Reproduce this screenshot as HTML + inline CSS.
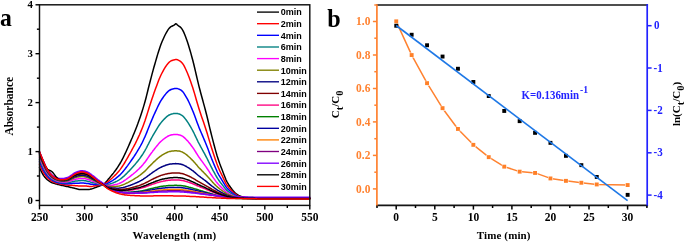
<!DOCTYPE html>
<html><head><meta charset="utf-8"><title>figure</title>
<style>
html,body{margin:0;padding:0;background:#fff;}
body{width:685px;height:243px;overflow:hidden;font-family:"Liberation Sans",sans-serif;}
svg{display:block;will-change:transform;}
</style></head><body>
<svg width="685" height="243" viewBox="0 0 685 243">
<rect width="685" height="243" fill="#fff"/>
<g fill="none" stroke-width="1.5" stroke-linejoin="round" stroke-linecap="round">
<polyline stroke="#000000" points="39.5,167.5 40.4,169.5 41.3,171.4 42.2,173.2 43.1,174.8 44.0,176.1 44.9,177.3 45.8,178.3 46.7,179.2 47.6,180.0 48.5,180.6 49.4,181.2 50.3,181.8 51.2,182.3 52.1,182.7 53.0,183.0 53.9,183.3 54.8,183.6 55.7,183.9 56.6,184.1 57.5,184.4 58.4,184.6 59.3,184.8 60.2,185.0 61.1,185.2 62.0,185.4 62.9,185.6 63.8,185.8 64.7,186.0 65.6,186.2 66.5,186.4 67.4,186.6 68.3,186.8 69.2,187.0 70.1,187.2 71.0,187.4 71.9,187.6 72.8,187.9 73.7,188.1 74.6,188.3 75.5,188.6 76.4,188.8 77.3,189.0 78.2,189.2 79.1,189.4 80.0,189.4 80.9,189.5 81.8,189.5 82.7,189.5 83.6,189.5 84.6,189.5 85.5,189.4 86.4,189.4 87.3,189.4 88.2,189.4 89.1,189.4 90.0,189.3 90.9,189.1 91.8,188.9 92.7,188.6 93.6,188.3 94.5,187.9 95.4,187.5 96.3,187.2 97.2,186.8 98.1,186.5 99.0,186.2 99.9,185.8 100.8,185.5 101.7,185.1 102.6,184.6 103.5,184.1 104.4,183.5 105.3,182.7 106.2,181.7 107.1,180.7 108.0,179.6 108.9,178.6 109.8,177.5 110.7,176.4 111.6,175.3 112.5,174.2 113.4,173.1 114.3,171.9 115.2,170.7 116.1,169.5 117.0,168.2 117.9,166.8 118.8,165.4 119.7,164.0 120.6,162.5 121.5,160.8 122.4,159.1 123.3,157.4 124.2,155.5 125.1,153.6 126.0,151.7 126.9,149.7 127.8,147.7 128.7,145.7 129.6,143.6 130.5,141.6 131.4,139.5 132.3,137.5 133.2,135.3 134.1,133.2 135.0,131.0 135.9,128.7 136.8,126.4 137.7,124.1 138.6,121.6 139.5,119.1 140.4,116.5 141.3,113.8 142.2,111.0 143.1,108.1 144.0,105.1 144.9,102.0 145.8,98.7 146.7,95.1 147.6,91.5 148.5,87.8 149.4,84.2 150.3,80.8 151.2,77.4 152.1,73.9 153.0,70.6 153.9,67.3 154.8,64.2 155.7,61.1 156.6,58.0 157.5,54.9 158.4,52.0 159.3,49.2 160.2,46.5 161.1,44.1 162.0,41.8 162.9,39.7 163.8,37.7 164.7,35.8 165.6,34.0 166.5,32.3 167.4,30.8 168.3,29.4 169.2,28.3 170.1,27.4 171.0,26.7 171.9,26.2 172.8,25.8 173.7,25.4 174.7,24.7 175.6,23.7 176.5,23.9 177.4,25.0 178.3,25.7 179.2,26.3 180.1,26.9 181.0,27.8 181.9,28.9 182.8,30.3 183.7,32.1 184.6,34.2 185.5,36.5 186.4,39.0 187.3,41.5 188.2,44.2 189.1,47.2 190.0,50.2 190.9,53.4 191.8,56.7 192.7,60.0 193.6,63.5 194.5,67.2 195.4,71.1 196.3,75.0 197.2,78.9 198.1,82.7 199.0,86.4 199.9,89.8 200.8,93.2 201.7,96.5 202.6,99.8 203.5,103.1 204.4,106.4 205.3,109.8 206.2,113.2 207.1,116.8 208.0,120.5 208.9,124.3 209.8,128.1 210.7,131.8 211.6,135.4 212.5,138.9 213.4,142.4 214.3,145.8 215.2,149.1 216.1,152.4 217.0,155.5 217.9,158.3 218.8,161.0 219.7,163.6 220.6,166.0 221.5,168.3 222.4,170.6 223.3,173.0 224.2,175.3 225.1,177.6 226.0,179.8 226.9,181.6 227.8,183.2 228.7,184.7 229.6,186.0 230.5,187.3 231.4,188.5 232.3,189.7 233.2,190.8 234.1,191.8 235.0,192.7 235.9,193.5 236.8,194.2 237.7,194.8 238.6,195.4 239.5,195.8 240.4,196.2 241.3,196.6 242.2,196.8 243.1,197.0 244.0,197.2 244.9,197.3 245.8,197.4 246.7,197.5 247.6,197.5 248.5,197.5 249.4,197.6 250.3,197.6 251.2,197.6 252.1,197.6 253.0,197.6 253.9,197.7 254.8,197.7 255.7,197.7 256.6,197.7 257.5,197.7 258.4,197.7 259.3,197.7 260.2,197.8 261.1,197.8 262.0,197.8 262.9,197.8 263.8,197.8 264.8,197.8 265.7,197.8 266.6,197.8 267.5,197.8 268.4,197.9 269.3,197.9 270.2,197.9 271.1,197.9 272.0,197.9 272.9,197.9 273.8,197.9 274.7,198.0 275.6,198.0 276.5,198.0 277.4,198.0 278.3,198.0 279.2,198.0 280.1,198.0 281.0,198.0 281.9,198.0 282.8,198.0 283.7,198.0 284.6,198.0 285.5,198.0 286.4,198.1 287.3,198.1 288.2,198.1 289.1,198.1 290.0,198.1 290.9,198.1 291.8,198.1 292.7,198.1 293.6,198.1 294.5,198.1 295.4,198.1 296.3,198.1 297.2,198.1 298.1,198.1 299.0,198.1 299.9,198.1 300.8,198.1 301.7,198.1 302.6,198.1 303.5,198.1 304.4,198.1 305.3,198.1 306.2,198.1 307.1,198.1 308.0,198.1 308.9,198.1 309.8,198.1"/>
<polyline stroke="#ff0000" points="39.5,164.3 40.4,166.4 41.3,168.3 42.2,170.2 43.1,172.0 44.0,173.4 44.9,174.8 45.8,176.0 46.7,177.1 47.6,178.0 48.5,178.8 49.4,179.5 50.3,180.2 51.2,180.8 52.1,181.3 53.0,181.7 53.9,182.1 54.8,182.5 55.7,182.8 56.6,183.1 57.5,183.3 58.4,183.5 59.3,183.8 60.2,184.0 61.1,184.1 62.0,184.3 62.9,184.4 63.8,184.6 64.7,184.7 65.6,184.9 66.5,185.0 67.4,185.1 68.3,185.2 69.2,185.2 70.1,185.3 71.0,185.3 71.9,185.3 72.8,185.4 73.7,185.5 74.6,185.6 75.5,185.7 76.4,185.7 77.3,185.8 78.2,185.9 79.1,186.0 80.0,186.0 80.9,186.0 81.8,186.0 82.7,186.0 83.6,186.0 84.6,186.0 85.5,186.1 86.4,186.1 87.3,186.2 88.2,186.3 89.1,186.4 90.0,186.4 90.9,186.4 91.8,186.4 92.7,186.3 93.6,186.1 94.5,186.0 95.4,185.8 96.3,185.7 97.2,185.6 98.1,185.5 99.0,185.3 99.9,185.2 100.8,185.0 101.7,184.9 102.6,184.6 103.5,184.4 104.4,184.0 105.3,183.5 106.2,182.9 107.1,182.3 108.0,181.5 108.9,180.8 109.8,180.0 110.7,179.3 111.6,178.5 112.5,177.7 113.4,176.8 114.3,176.0 115.2,175.1 116.1,174.2 117.0,173.2 117.9,172.2 118.8,171.2 119.7,170.1 120.6,168.9 121.5,167.6 122.4,166.3 123.3,164.9 124.2,163.5 125.1,162.0 126.0,160.4 126.9,158.9 127.8,157.3 128.7,155.7 129.6,154.1 130.5,152.5 131.4,150.9 132.3,149.2 133.2,147.5 134.1,145.8 135.0,144.1 135.9,142.3 136.8,140.5 137.7,138.6 138.6,136.6 139.5,134.7 140.4,132.6 141.3,130.4 142.2,128.2 143.1,125.9 144.0,123.5 144.9,121.0 145.8,118.3 146.7,115.5 147.6,112.6 148.5,109.7 149.4,106.8 150.3,104.1 151.2,101.3 152.1,98.6 153.0,95.9 153.9,93.3 154.8,90.8 155.7,88.3 156.6,85.9 157.5,83.4 158.4,81.1 159.3,78.8 160.2,76.7 161.1,74.8 162.0,73.0 162.9,71.3 163.8,69.7 164.7,68.2 165.6,66.7 166.5,65.4 167.4,64.2 168.3,63.1 169.2,62.2 170.1,61.5 171.0,60.9 171.9,60.5 172.8,60.2 173.7,59.9 174.7,59.7 175.6,59.6 176.5,59.6 177.4,59.8 178.3,60.1 179.2,60.6 180.1,61.1 181.0,61.8 181.9,62.7 182.8,63.8 183.7,65.2 184.6,66.9 185.5,68.8 186.4,70.8 187.3,72.8 188.2,75.0 189.1,77.3 190.0,79.8 190.9,82.3 191.8,84.9 192.7,87.6 193.6,90.4 194.5,93.4 195.4,96.5 196.3,99.7 197.2,102.8 198.1,105.8 199.0,108.7 199.9,111.5 200.8,114.2 201.7,116.9 202.6,119.5 203.5,122.1 204.4,124.8 205.3,127.5 206.2,130.3 207.1,133.1 208.0,136.1 208.9,139.1 209.8,142.1 210.7,145.1 211.6,148.0 212.5,150.8 213.4,153.6 214.3,156.3 215.2,159.0 216.1,161.6 217.0,164.1 217.9,166.4 218.8,168.5 219.7,170.6 220.6,172.5 221.5,174.4 222.4,176.2 223.3,178.1 224.2,180.0 225.1,181.8 226.0,183.6 226.9,185.0 227.8,186.3 228.7,187.5 229.6,188.6 230.5,189.6 231.4,190.5 232.3,191.5 233.2,192.4 234.1,193.2 235.0,193.9 235.9,194.5 236.8,195.1 237.7,195.6 238.6,196.0 239.5,196.4 240.4,196.7 241.3,197.0 242.2,197.2 243.1,197.4 244.0,197.5 244.9,197.6 245.8,197.7 246.7,197.7 247.6,197.8 248.5,197.8 249.4,197.8 250.3,197.9 251.2,197.9 252.1,197.9 253.0,197.9 253.9,197.9 254.8,197.9 255.7,198.0 256.6,198.0 257.5,198.0 258.4,198.0 259.3,198.0 260.2,198.0 261.1,198.0 262.0,198.0 262.9,198.0 263.8,198.0 264.8,198.1 265.7,198.1 266.6,198.1 267.5,198.1 268.4,198.1 269.3,198.1 270.2,198.1 271.1,198.1 272.0,198.1 272.9,198.1 273.8,198.2 274.7,198.2 275.6,198.2 276.5,198.2 277.4,198.2 278.3,198.2 279.2,198.2 280.1,198.2 281.0,198.2 281.9,198.2 282.8,198.2 283.7,198.2 284.6,198.2 285.5,198.2 286.4,198.2 287.3,198.3 288.2,198.3 289.1,198.3 290.0,198.3 290.9,198.3 291.8,198.3 292.7,198.3 293.6,198.3 294.5,198.3 295.4,198.3 296.3,198.3 297.2,198.3 298.1,198.3 299.0,198.3 299.9,198.3 300.8,198.3 301.7,198.3 302.6,198.3 303.5,198.3 304.4,198.3 305.3,198.3 306.2,198.3 307.1,198.3 308.0,198.3 308.9,198.3 309.8,198.3"/>
<polyline stroke="#0000ff" points="39.5,161.6 40.4,163.7 41.3,165.8 42.2,167.7 43.1,169.6 44.0,171.2 44.9,172.6 45.8,174.0 46.7,175.2 47.6,176.3 48.5,177.2 49.4,178.1 50.3,178.8 51.2,179.5 52.1,180.1 53.0,180.6 53.9,181.1 54.8,181.5 55.7,181.8 56.6,182.2 57.5,182.4 58.4,182.7 59.3,182.9 60.2,183.1 61.1,183.2 62.0,183.4 62.9,183.5 63.8,183.6 64.7,183.7 65.6,183.7 66.5,183.8 67.4,183.8 68.3,183.8 69.2,183.7 70.1,183.6 71.0,183.5 71.9,183.4 72.8,183.3 73.7,183.3 74.6,183.2 75.5,183.2 76.4,183.2 77.3,183.2 78.2,183.2 79.1,183.2 80.0,183.1 80.9,183.1 81.8,183.1 82.7,183.1 83.6,183.1 84.6,183.2 85.5,183.3 86.4,183.4 87.3,183.5 88.2,183.6 89.1,183.8 90.0,184.0 90.9,184.2 91.8,184.3 92.7,184.3 93.6,184.4 94.5,184.4 95.4,184.4 96.3,184.5 97.2,184.5 98.1,184.6 99.0,184.6 99.9,184.7 100.8,184.7 101.7,184.7 102.6,184.6 103.5,184.6 104.4,184.4 105.3,184.2 106.2,183.9 107.1,183.6 108.0,183.1 108.9,182.6 109.8,182.1 110.7,181.6 111.6,181.1 112.5,180.6 113.4,180.0 114.3,179.4 115.2,178.8 116.1,178.1 117.0,177.4 117.9,176.7 118.8,175.9 119.7,175.1 120.6,174.2 121.5,173.3 122.4,172.3 123.3,171.2 124.2,170.1 125.1,169.0 126.0,167.8 126.9,166.6 127.8,165.4 128.7,164.1 129.6,162.9 130.5,161.6 131.4,160.3 132.3,159.0 133.2,157.7 134.1,156.4 135.0,155.0 135.9,153.6 136.8,152.2 137.7,150.7 138.6,149.2 139.5,147.6 140.4,146.0 141.3,144.3 142.2,142.6 143.1,140.7 144.0,138.8 144.9,136.9 145.8,134.8 146.7,132.6 147.6,130.3 148.5,128.0 149.4,125.7 150.3,123.5 151.2,121.4 152.1,119.2 153.0,117.1 153.9,115.0 154.8,113.1 155.7,111.1 156.6,109.2 157.5,107.3 158.4,105.4 159.3,103.6 160.2,101.9 161.1,100.4 162.0,99.0 162.9,97.7 163.8,96.4 164.7,95.2 165.6,94.1 166.5,93.0 167.4,92.1 168.3,91.2 169.2,90.5 170.1,90.0 171.0,89.5 171.9,89.2 172.8,88.9 173.7,88.7 174.7,88.5 175.6,88.4 176.5,88.5 177.4,88.6 178.3,88.9 179.2,89.2 180.1,89.6 181.0,90.2 181.9,90.9 182.8,91.8 183.7,92.9 184.6,94.3 185.5,95.8 186.4,97.3 187.3,98.9 188.2,100.7 189.1,102.5 190.0,104.5 190.9,106.5 191.8,108.6 192.7,110.7 193.6,112.9 194.5,115.3 195.4,117.7 196.3,120.2 197.2,122.7 198.1,125.1 199.0,127.4 199.9,129.6 200.8,131.7 201.7,133.8 202.6,135.9 203.5,138.0 204.4,140.1 205.3,142.3 206.2,144.5 207.1,146.8 208.0,149.1 208.9,151.5 209.8,153.9 210.7,156.2 211.6,158.6 212.5,160.8 213.4,163.0 214.3,165.1 215.2,167.2 216.1,169.3 217.0,171.3 217.9,173.1 218.8,174.8 219.7,176.4 220.6,177.9 221.5,179.4 222.4,180.9 223.3,182.4 224.2,183.9 225.1,185.4 226.0,186.7 226.9,187.9 227.8,188.9 228.7,189.8 229.6,190.7 230.5,191.5 231.4,192.3 232.3,193.0 233.2,193.7 234.1,194.3 235.0,194.9 235.9,195.4 236.8,195.9 237.7,196.3 238.6,196.6 239.5,196.9 240.4,197.2 241.3,197.4 242.2,197.6 243.1,197.7 244.0,197.8 244.9,197.9 245.8,197.9 246.7,198.0 247.6,198.0 248.5,198.0 249.4,198.1 250.3,198.1 251.2,198.1 252.1,198.1 253.0,198.1 253.9,198.1 254.8,198.2 255.7,198.2 256.6,198.2 257.5,198.2 258.4,198.2 259.3,198.2 260.2,198.2 261.1,198.2 262.0,198.2 262.9,198.2 263.8,198.3 264.8,198.3 265.7,198.3 266.6,198.3 267.5,198.3 268.4,198.3 269.3,198.3 270.2,198.3 271.1,198.3 272.0,198.3 272.9,198.3 273.8,198.3 274.7,198.4 275.6,198.4 276.5,198.4 277.4,198.4 278.3,198.4 279.2,198.4 280.1,198.4 281.0,198.4 281.9,198.4 282.8,198.4 283.7,198.4 284.6,198.4 285.5,198.4 286.4,198.4 287.3,198.4 288.2,198.4 289.1,198.4 290.0,198.4 290.9,198.4 291.8,198.4 292.7,198.4 293.6,198.4 294.5,198.4 295.4,198.4 296.3,198.4 297.2,198.4 298.1,198.4 299.0,198.4 299.9,198.4 300.8,198.4 301.7,198.4 302.6,198.4 303.5,198.4 304.4,198.4 305.3,198.4 306.2,198.4 307.1,198.4 308.0,198.4 308.9,198.4 309.8,198.4"/>
<polyline stroke="#008080" points="39.5,159.2 40.4,161.5 41.3,163.6 42.2,165.6 43.1,167.5 44.0,169.2 44.9,170.8 45.8,172.3 46.7,173.6 47.6,174.8 48.5,175.9 49.4,176.8 50.3,177.7 51.2,178.4 52.1,179.1 53.0,179.7 53.9,180.2 54.8,180.6 55.7,181.0 56.6,181.4 57.5,181.7 58.4,181.9 59.3,182.1 60.2,182.3 61.1,182.5 62.0,182.6 62.9,182.7 63.8,182.7 64.7,182.8 65.6,182.8 66.5,182.8 67.4,182.8 68.3,182.6 69.2,182.4 70.1,182.2 71.0,182.0 71.9,181.8 72.8,181.5 73.7,181.4 74.6,181.2 75.5,181.1 76.4,181.0 77.3,180.9 78.2,180.8 79.1,180.7 80.0,180.7 80.9,180.6 81.8,180.5 82.7,180.5 83.6,180.6 84.6,180.7 85.5,180.8 86.4,181.0 87.3,181.2 88.2,181.4 89.1,181.6 90.0,181.9 90.9,182.2 91.8,182.4 92.7,182.7 93.6,182.8 94.5,183.0 95.4,183.2 96.3,183.4 97.2,183.7 98.1,183.9 99.0,184.1 99.9,184.2 100.8,184.4 101.7,184.5 102.6,184.6 103.5,184.7 104.4,184.8 105.3,184.8 106.2,184.8 107.1,184.7 108.0,184.5 108.9,184.2 109.8,184.0 110.7,183.7 111.6,183.4 112.5,183.1 113.4,182.7 114.3,182.3 115.2,182.0 116.1,181.5 117.0,181.1 117.9,180.6 118.8,180.1 119.7,179.5 120.6,178.9 121.5,178.2 122.4,177.4 123.3,176.7 124.2,175.9 125.1,175.0 126.0,174.1 126.9,173.2 127.8,172.3 128.7,171.4 129.6,170.4 130.5,169.5 131.4,168.5 132.3,167.5 133.2,166.5 134.1,165.5 135.0,164.5 135.9,163.4 136.8,162.3 137.7,161.2 138.6,160.0 139.5,158.9 140.4,157.6 141.3,156.3 142.2,155.0 143.1,153.6 144.0,152.1 144.9,150.6 145.8,149.0 146.7,147.3 147.6,145.5 148.5,143.8 149.4,142.0 150.3,140.4 151.2,138.7 152.1,137.0 153.0,135.4 153.9,133.8 154.8,132.3 155.7,130.8 156.6,129.3 157.5,127.8 158.4,126.4 159.3,125.0 160.2,123.8 161.1,122.6 162.0,121.5 162.9,120.5 163.8,119.5 164.7,118.6 165.6,117.7 166.5,116.9 167.4,116.2 168.3,115.5 169.2,115.0 170.1,114.6 171.0,114.2 171.9,113.9 172.8,113.8 173.7,113.6 174.7,113.5 175.6,113.4 176.5,113.4 177.4,113.5 178.3,113.8 179.2,114.0 180.1,114.3 181.0,114.8 181.9,115.3 182.8,116.0 183.7,116.9 184.6,118.0 185.5,119.1 186.4,120.3 187.3,121.6 188.2,122.9 189.1,124.3 190.0,125.8 190.9,127.4 191.8,129.0 192.7,130.6 193.6,132.3 194.5,134.2 195.4,136.1 196.3,138.0 197.2,139.9 198.1,141.8 199.0,143.5 199.9,145.2 200.8,146.9 201.7,148.5 202.6,150.2 203.5,151.8 204.4,153.4 205.3,155.1 206.2,156.8 207.1,158.5 208.0,160.3 208.9,162.2 209.8,164.0 210.7,165.9 211.6,167.6 212.5,169.4 213.4,171.1 214.3,172.7 215.2,174.4 216.1,176.0 217.0,177.5 217.9,178.9 218.8,180.2 219.7,181.5 220.6,182.7 221.5,183.8 222.4,185.0 223.3,186.1 224.2,187.3 225.1,188.4 226.0,189.4 226.9,190.4 227.8,191.2 228.7,191.9 229.6,192.5 230.5,193.1 231.4,193.7 232.3,194.3 233.2,194.8 234.1,195.3 235.0,195.8 235.9,196.2 236.8,196.5 237.7,196.8 238.6,197.1 239.5,197.3 240.4,197.5 241.3,197.7 242.2,197.8 243.1,197.9 244.0,198.0 244.9,198.1 245.8,198.1 246.7,198.2 247.6,198.2 248.5,198.2 249.4,198.2 250.3,198.3 251.2,198.3 252.1,198.3 253.0,198.3 253.9,198.3 254.8,198.3 255.7,198.4 256.6,198.4 257.5,198.4 258.4,198.4 259.3,198.4 260.2,198.4 261.1,198.4 262.0,198.4 262.9,198.4 263.8,198.4 264.8,198.4 265.7,198.4 266.6,198.5 267.5,198.5 268.4,198.5 269.3,198.5 270.2,198.5 271.1,198.5 272.0,198.5 272.9,198.5 273.8,198.5 274.7,198.5 275.6,198.5 276.5,198.5 277.4,198.5 278.3,198.5 279.2,198.5 280.1,198.5 281.0,198.5 281.9,198.5 282.8,198.6 283.7,198.6 284.6,198.6 285.5,198.6 286.4,198.6 287.3,198.6 288.2,198.6 289.1,198.6 290.0,198.6 290.9,198.6 291.8,198.6 292.7,198.6 293.6,198.6 294.5,198.6 295.4,198.6 296.3,198.6 297.2,198.6 298.1,198.6 299.0,198.6 299.9,198.6 300.8,198.6 301.7,198.6 302.6,198.6 303.5,198.6 304.4,198.6 305.3,198.6 306.2,198.6 307.1,198.6 308.0,198.6 308.9,198.6 309.8,198.6"/>
<polyline stroke="#ff00ff" points="39.5,157.3 40.4,159.5 41.3,161.7 42.2,163.8 43.1,165.7 44.0,167.5 44.9,169.3 45.8,170.9 46.7,172.3 47.6,173.6 48.5,174.7 49.4,175.8 50.3,176.7 51.2,177.5 52.1,178.3 53.0,178.9 53.9,179.4 54.8,179.9 55.7,180.3 56.6,180.7 57.5,181.0 58.4,181.2 59.3,181.5 60.2,181.7 61.1,181.8 62.0,181.9 62.9,182.0 63.8,182.0 64.7,182.0 65.6,182.0 66.5,181.9 67.4,181.8 68.3,181.6 69.2,181.3 70.1,181.0 71.0,180.7 71.9,180.4 72.8,180.0 73.7,179.7 74.6,179.5 75.5,179.3 76.4,179.1 77.3,178.9 78.2,178.8 79.1,178.7 80.0,178.6 80.9,178.5 81.8,178.4 82.7,178.4 83.6,178.5 84.6,178.6 85.5,178.8 86.4,179.0 87.3,179.2 88.2,179.5 89.1,179.8 90.0,180.2 90.9,180.6 91.8,180.9 92.7,181.2 93.6,181.5 94.5,181.9 95.4,182.2 96.3,182.6 97.2,182.9 98.1,183.2 99.0,183.5 99.9,183.8 100.8,184.1 101.7,184.4 102.6,184.6 103.5,184.9 104.4,185.1 105.3,185.4 106.2,185.5 107.1,185.6 108.0,185.6 108.9,185.6 109.8,185.5 110.7,185.4 111.6,185.3 112.5,185.2 113.4,185.0 114.3,184.8 115.2,184.6 116.1,184.4 117.0,184.2 117.9,183.9 118.8,183.6 119.7,183.2 120.6,182.8 121.5,182.3 122.4,181.8 123.3,181.3 124.2,180.7 125.1,180.1 126.0,179.5 126.9,178.8 127.8,178.2 128.7,177.5 129.6,176.8 130.5,176.1 131.4,175.4 132.3,174.7 133.2,174.0 134.1,173.2 135.0,172.5 135.9,171.7 136.8,170.9 137.7,170.0 138.6,169.2 139.5,168.3 140.4,167.4 141.3,166.4 142.2,165.4 143.1,164.4 144.0,163.3 144.9,162.2 145.8,161.0 146.7,159.7 147.6,158.4 148.5,157.1 149.4,155.8 150.3,154.5 151.2,153.3 152.1,152.1 153.0,150.8 153.9,149.7 154.8,148.5 155.7,147.4 156.6,146.3 157.5,145.2 158.4,144.1 159.3,143.1 160.2,142.1 161.1,141.3 162.0,140.5 162.9,139.7 163.8,139.0 164.7,138.3 165.6,137.7 166.5,137.1 167.4,136.5 168.3,136.0 169.2,135.6 170.1,135.3 171.0,135.0 171.9,134.8 172.8,134.7 173.7,134.6 174.7,134.5 175.6,134.4 176.5,134.4 177.4,134.5 178.3,134.7 179.2,134.9 180.1,135.1 181.0,135.5 181.9,135.9 182.8,136.4 183.7,137.1 184.6,137.9 185.5,138.8 186.4,139.7 187.3,140.6 188.2,141.6 189.1,142.7 190.0,143.8 190.9,145.0 191.8,146.2 192.7,147.4 193.6,148.7 194.5,150.1 195.4,151.5 196.3,153.0 197.2,154.4 198.1,155.8 199.0,157.2 199.9,158.4 200.8,159.7 201.7,160.9 202.6,162.1 203.5,163.4 204.4,164.6 205.3,165.9 206.2,167.1 207.1,168.5 208.0,169.8 208.9,171.2 209.8,172.6 210.7,174.0 211.6,175.3 212.5,176.6 213.4,177.9 214.3,179.1 215.2,180.4 216.1,181.6 217.0,182.7 217.9,183.8 218.8,184.8 219.7,185.7 220.6,186.6 221.5,187.5 222.4,188.4 223.3,189.2 224.2,190.1 225.1,191.0 226.0,191.8 226.9,192.4 227.8,193.0 228.7,193.6 229.6,194.1 230.5,194.5 231.4,195.0 232.3,195.4 233.2,195.8 234.1,196.2 235.0,196.5 235.9,196.8 236.8,197.1 237.7,197.3 238.6,197.5 239.5,197.7 240.4,197.9 241.3,198.0 242.2,198.1 243.1,198.2 244.0,198.2 244.9,198.3 245.8,198.3 246.7,198.4 247.6,198.4 248.5,198.4 249.4,198.4 250.3,198.4 251.2,198.4 252.1,198.5 253.0,198.5 253.9,198.5 254.8,198.5 255.7,198.5 256.6,198.5 257.5,198.5 258.4,198.5 259.3,198.6 260.2,198.6 261.1,198.6 262.0,198.6 262.9,198.6 263.8,198.6 264.8,198.6 265.7,198.6 266.6,198.6 267.5,198.6 268.4,198.6 269.3,198.6 270.2,198.6 271.1,198.6 272.0,198.6 272.9,198.6 273.8,198.6 274.7,198.6 275.6,198.6 276.5,198.7 277.4,198.7 278.3,198.7 279.2,198.7 280.1,198.7 281.0,198.7 281.9,198.7 282.8,198.7 283.7,198.7 284.6,198.7 285.5,198.7 286.4,198.7 287.3,198.7 288.2,198.7 289.1,198.7 290.0,198.7 290.9,198.7 291.8,198.7 292.7,198.7 293.6,198.7 294.5,198.7 295.4,198.7 296.3,198.7 297.2,198.7 298.1,198.7 299.0,198.7 299.9,198.7 300.8,198.7 301.7,198.7 302.6,198.7 303.5,198.7 304.4,198.7 305.3,198.7 306.2,198.7 307.1,198.7 308.0,198.7 308.9,198.7 309.8,198.7"/>
<polyline stroke="#808000" points="39.5,155.7 40.4,158.0 41.3,160.2 42.2,162.3 43.1,164.3 44.0,166.2 44.9,168.0 45.8,169.7 46.7,171.2 47.6,172.5 48.5,173.7 49.4,174.8 50.3,175.8 51.2,176.7 52.1,177.5 53.0,178.1 53.9,178.7 54.8,179.2 55.7,179.7 56.6,180.0 57.5,180.3 58.4,180.6 59.3,180.8 60.2,181.0 61.1,181.1 62.0,181.2 62.9,181.2 63.8,181.2 64.7,181.2 65.6,181.1 66.5,181.0 67.4,180.9 68.3,180.6 69.2,180.2 70.1,179.9 71.0,179.5 71.9,179.1 72.8,178.6 73.7,178.2 74.6,177.9 75.5,177.6 76.4,177.4 77.3,177.1 78.2,177.0 79.1,176.8 80.0,176.7 80.9,176.6 81.8,176.5 82.7,176.5 83.6,176.6 84.6,176.7 85.5,176.9 86.4,177.2 87.3,177.4 88.2,177.7 89.1,178.1 90.0,178.6 90.9,179.0 91.8,179.5 92.7,179.9 93.6,180.3 94.5,180.7 95.4,181.2 96.3,181.6 97.2,182.1 98.1,182.5 99.0,182.9 99.9,183.3 100.8,183.7 101.7,184.0 102.6,184.4 103.5,184.8 104.4,185.1 105.3,185.5 106.2,185.9 107.1,186.1 108.0,186.3 108.9,186.4 109.8,186.5 110.7,186.6 111.6,186.6 112.5,186.6 113.4,186.6 114.3,186.5 115.2,186.5 116.1,186.4 117.0,186.3 117.9,186.2 118.8,186.1 119.7,185.9 120.6,185.6 121.5,185.3 122.4,185.0 123.3,184.6 124.2,184.3 125.1,183.9 126.0,183.4 126.9,183.0 127.8,182.6 128.7,182.1 129.6,181.6 130.5,181.1 131.4,180.6 132.3,180.1 133.2,179.6 134.1,179.0 135.0,178.5 135.9,177.9 136.8,177.4 137.7,176.8 138.6,176.2 139.5,175.5 140.4,174.9 141.3,174.2 142.2,173.4 143.1,172.7 144.0,171.9 144.9,171.1 145.8,170.2 146.7,169.3 147.6,168.3 148.5,167.3 149.4,166.4 150.3,165.5 151.2,164.6 152.1,163.7 153.0,162.8 153.9,161.9 154.8,161.1 155.7,160.2 156.6,159.4 157.5,158.6 158.4,157.8 159.3,157.1 160.2,156.4 161.1,155.8 162.0,155.2 162.9,154.6 163.8,154.1 164.7,153.6 165.6,153.1 166.5,152.7 167.4,152.3 168.3,151.9 169.2,151.6 170.1,151.4 171.0,151.2 171.9,151.1 172.8,151.0 173.7,150.9 174.7,150.8 175.6,150.8 176.5,150.8 177.4,150.9 178.3,151.0 179.2,151.1 180.1,151.3 181.0,151.6 181.9,151.9 182.8,152.3 183.7,152.8 184.6,153.4 185.5,154.0 186.4,154.7 187.3,155.4 188.2,156.2 189.1,157.0 190.0,157.8 190.9,158.7 191.8,159.6 192.7,160.5 193.6,161.4 194.5,162.4 195.4,163.5 196.3,164.6 197.2,165.6 198.1,166.7 199.0,167.7 199.9,168.6 200.8,169.5 201.7,170.4 202.6,171.4 203.5,172.3 204.4,173.2 205.3,174.1 206.2,175.1 207.1,176.0 208.0,177.1 208.9,178.1 209.8,179.1 210.7,180.1 211.6,181.1 212.5,182.1 213.4,183.0 214.3,184.0 215.2,184.9 216.1,185.8 217.0,186.6 217.9,187.4 218.8,188.1 219.7,188.9 220.6,189.5 221.5,190.2 222.4,190.8 223.3,191.5 224.2,192.1 225.1,192.7 226.0,193.3 226.9,193.8 227.8,194.3 228.7,194.7 229.6,195.0 230.5,195.4 231.4,195.7 232.3,196.0 233.2,196.3 234.1,196.6 235.0,196.9 235.9,197.1 236.8,197.3 237.7,197.5 238.6,197.6 239.5,197.7 240.4,197.9 241.3,198.0 242.2,198.0 243.1,198.1 244.0,198.1 244.9,198.2 245.8,198.2 246.7,198.2 247.6,198.3 248.5,198.3 249.4,198.3 250.3,198.3 251.2,198.3 252.1,198.3 253.0,198.4 253.9,198.4 254.8,198.4 255.7,198.4 256.6,198.4 257.5,198.4 258.4,198.4 259.3,198.4 260.2,198.4 261.1,198.4 262.0,198.5 262.9,198.5 263.8,198.5 264.8,198.5 265.7,198.5 266.6,198.5 267.5,198.5 268.4,198.5 269.3,198.5 270.2,198.5 271.1,198.5 272.0,198.5 272.9,198.5 273.8,198.5 274.7,198.5 275.6,198.5 276.5,198.5 277.4,198.5 278.3,198.5 279.2,198.5 280.1,198.5 281.0,198.5 281.9,198.5 282.8,198.5 283.7,198.5 284.6,198.5 285.5,198.5 286.4,198.5 287.3,198.5 288.2,198.5 289.1,198.5 290.0,198.5 290.9,198.5 291.8,198.5 292.7,198.5 293.6,198.5 294.5,198.5 295.4,198.5 296.3,198.5 297.2,198.5 298.1,198.5 299.0,198.5 299.9,198.5 300.8,198.5 301.7,198.5 302.6,198.5 303.5,198.5 304.4,198.5 305.3,198.5 306.2,198.5 307.1,198.5 308.0,198.5 308.9,198.5 309.8,198.5"/>
<polyline stroke="#000080" points="39.5,154.5 40.4,156.8 41.3,159.1 42.2,161.2 43.1,163.2 44.0,165.2 44.9,167.1 45.8,168.8 46.7,170.4 47.6,171.8 48.5,173.0 49.4,174.2 50.3,175.2 51.2,176.1 52.1,176.9 53.0,177.7 53.9,178.3 54.8,178.8 55.7,179.2 56.6,179.6 57.5,179.9 58.4,180.2 59.3,180.4 60.2,180.6 61.1,180.7 62.0,180.8 62.9,180.8 63.8,180.7 64.7,180.7 65.6,180.6 66.5,180.5 67.4,180.3 68.3,180.0 69.2,179.6 70.1,179.1 71.0,178.7 71.9,178.2 72.8,177.7 73.7,177.3 74.6,176.9 75.5,176.5 76.4,176.2 77.3,175.9 78.2,175.7 79.1,175.6 80.0,175.4 80.9,175.3 81.8,175.2 82.7,175.2 83.6,175.3 84.6,175.5 85.5,175.7 86.4,175.9 87.3,176.2 88.2,176.5 89.1,177.0 90.0,177.5 90.9,178.0 91.8,178.5 92.7,179.0 93.6,179.5 94.5,180.0 95.4,180.5 96.3,181.1 97.2,181.6 98.1,182.1 99.0,182.6 99.9,183.1 100.8,183.5 101.7,184.0 102.6,184.4 103.5,184.9 104.4,185.3 105.3,185.8 106.2,186.3 107.1,186.7 108.0,187.0 108.9,187.3 109.8,187.5 110.7,187.6 111.6,187.8 112.5,187.9 113.4,188.0 114.3,188.1 115.2,188.1 116.1,188.2 117.0,188.2 117.9,188.2 118.8,188.2 119.7,188.1 120.6,188.0 121.5,187.8 122.4,187.7 123.3,187.5 124.2,187.2 125.1,187.0 126.0,186.7 126.9,186.4 127.8,186.1 128.7,185.8 129.6,185.5 130.5,185.2 131.4,184.8 132.3,184.5 133.2,184.1 134.1,183.8 135.0,183.4 135.9,183.0 136.8,182.6 137.7,182.2 138.6,181.8 139.5,181.3 140.4,180.8 141.3,180.4 142.2,179.8 143.1,179.3 144.0,178.7 144.9,178.1 145.8,177.5 146.7,176.9 147.6,176.2 148.5,175.5 149.4,174.8 150.3,174.1 151.2,173.5 152.1,172.8 153.0,172.2 153.9,171.6 154.8,171.0 155.7,170.4 156.6,169.8 157.5,169.2 158.4,168.7 159.3,168.1 160.2,167.6 161.1,167.2 162.0,166.8 162.9,166.4 163.8,166.0 164.7,165.7 165.6,165.3 166.5,165.0 167.4,164.7 168.3,164.5 169.2,164.3 170.1,164.1 171.0,164.0 171.9,163.9 172.8,163.8 173.7,163.7 174.7,163.7 175.6,163.6 176.5,163.7 177.4,163.7 178.3,163.8 179.2,163.9 180.1,164.0 181.0,164.2 181.9,164.5 182.8,164.8 183.7,165.1 184.6,165.6 185.5,166.0 186.4,166.5 187.3,167.1 188.2,167.6 189.1,168.2 190.0,168.8 190.9,169.4 191.8,170.1 192.7,170.7 193.6,171.4 194.5,172.2 195.4,172.9 196.3,173.7 197.2,174.5 198.1,175.3 199.0,176.0 199.9,176.7 200.8,177.4 201.7,178.0 202.6,178.7 203.5,179.4 204.4,180.0 205.3,180.7 206.2,181.4 207.1,182.1 208.0,182.9 208.9,183.6 209.8,184.4 210.7,185.1 211.6,185.8 212.5,186.5 213.4,187.2 214.3,187.9 215.2,188.5 216.1,189.2 217.0,189.8 217.9,190.4 218.8,190.9 219.7,191.5 220.6,192.0 221.5,192.4 222.4,192.9 223.3,193.4 224.2,193.8 225.1,194.3 226.0,194.7 226.9,195.1 227.8,195.4 228.7,195.7 229.6,196.0 230.5,196.2 231.4,196.5 232.3,196.7 233.2,196.9 234.1,197.1 235.0,197.3 235.9,197.5 236.8,197.6 237.7,197.8 238.6,197.9 239.5,198.0 240.4,198.0 241.3,198.1 242.2,198.2 243.1,198.2 244.0,198.3 244.9,198.3 245.8,198.3 246.7,198.3 247.6,198.4 248.5,198.4 249.4,198.4 250.3,198.4 251.2,198.4 252.1,198.4 253.0,198.5 253.9,198.5 254.8,198.5 255.7,198.5 256.6,198.5 257.5,198.5 258.4,198.5 259.3,198.5 260.2,198.5 261.1,198.5 262.0,198.5 262.9,198.6 263.8,198.6 264.8,198.6 265.7,198.6 266.6,198.6 267.5,198.6 268.4,198.6 269.3,198.6 270.2,198.6 271.1,198.6 272.0,198.6 272.9,198.6 273.8,198.6 274.7,198.6 275.6,198.6 276.5,198.6 277.4,198.6 278.3,198.6 279.2,198.6 280.1,198.6 281.0,198.6 281.9,198.6 282.8,198.6 283.7,198.6 284.6,198.6 285.5,198.6 286.4,198.6 287.3,198.6 288.2,198.6 289.1,198.6 290.0,198.6 290.9,198.6 291.8,198.6 292.7,198.6 293.6,198.6 294.5,198.6 295.4,198.6 296.3,198.6 297.2,198.6 298.1,198.6 299.0,198.6 299.9,198.6 300.8,198.6 301.7,198.6 302.6,198.6 303.5,198.6 304.4,198.6 305.3,198.6 306.2,198.6 307.1,198.6 308.0,198.6 308.9,198.6 309.8,198.6"/>
<polyline stroke="#800000" points="39.5,153.6 40.4,156.0 41.3,158.2 42.2,160.3 43.1,162.4 44.0,164.4 44.9,166.3 45.8,168.1 46.7,169.7 47.6,171.1 48.5,172.5 49.4,173.6 50.3,174.7 51.2,175.6 52.1,176.4 53.0,177.2 53.9,177.8 54.8,178.3 55.7,178.8 56.6,179.2 57.5,179.5 58.4,179.7 59.3,179.9 60.2,180.1 61.1,180.2 62.0,180.2 62.9,180.2 63.8,180.2 64.7,180.1 65.6,180.0 66.5,179.9 67.4,179.7 68.3,179.3 69.2,178.8 70.1,178.4 71.0,177.9 71.9,177.3 72.8,176.8 73.7,176.3 74.6,175.9 75.5,175.5 76.4,175.1 77.3,174.8 78.2,174.6 79.1,174.4 80.0,174.2 80.9,174.1 81.8,174.0 82.7,174.0 83.6,174.1 84.6,174.3 85.5,174.5 86.4,174.8 87.3,175.1 88.2,175.4 89.1,175.9 90.0,176.4 90.9,177.0 91.8,177.6 92.7,178.1 93.6,178.7 94.5,179.2 95.4,179.8 96.3,180.4 97.2,181.0 98.1,181.6 99.0,182.1 99.9,182.6 100.8,183.2 101.7,183.7 102.6,184.2 103.5,184.7 104.4,185.2 105.3,185.8 106.2,186.4 107.1,186.9 108.0,187.3 108.9,187.6 109.8,187.9 110.7,188.2 111.6,188.4 112.5,188.6 113.4,188.8 114.3,189.0 115.2,189.1 116.1,189.3 117.0,189.4 117.9,189.5 118.8,189.5 119.7,189.6 120.6,189.5 121.5,189.5 122.4,189.4 123.3,189.3 124.2,189.2 125.1,189.0 126.0,188.9 126.9,188.7 127.8,188.6 128.7,188.4 129.6,188.2 130.5,187.9 131.4,187.7 132.3,187.5 133.2,187.2 134.1,187.0 135.0,186.8 135.9,186.5 136.8,186.2 137.7,185.9 138.6,185.7 139.5,185.4 140.4,185.0 141.3,184.7 142.2,184.3 143.1,184.0 144.0,183.6 144.9,183.2 145.8,182.7 146.7,182.3 147.6,181.8 148.5,181.3 149.4,180.8 150.3,180.3 151.2,179.9 152.1,179.4 153.0,179.0 153.9,178.5 154.8,178.1 155.7,177.7 156.6,177.3 157.5,176.9 158.4,176.5 159.3,176.1 160.2,175.7 161.1,175.4 162.0,175.1 162.9,174.9 163.8,174.6 164.7,174.4 165.6,174.1 166.5,173.9 167.4,173.7 168.3,173.5 169.2,173.4 170.1,173.3 171.0,173.2 171.9,173.1 172.8,173.0 173.7,173.0 174.7,173.0 175.6,172.9 176.5,173.0 177.4,173.0 178.3,173.1 179.2,173.1 180.1,173.2 181.0,173.4 181.9,173.6 182.8,173.8 183.7,174.0 184.6,174.4 185.5,174.7 186.4,175.1 187.3,175.5 188.2,175.9 189.1,176.3 190.0,176.7 190.9,177.2 191.8,177.7 192.7,178.1 193.6,178.6 194.5,179.2 195.4,179.7 196.3,180.3 197.2,180.8 198.1,181.4 199.0,181.9 199.9,182.4 200.8,182.9 201.7,183.4 202.6,183.9 203.5,184.4 204.4,184.9 205.3,185.4 206.2,185.9 207.1,186.4 208.0,186.9 208.9,187.5 209.8,188.0 210.7,188.5 211.6,189.0 212.5,189.6 213.4,190.0 214.3,190.5 215.2,191.0 216.1,191.5 217.0,191.9 217.9,192.4 218.8,192.8 219.7,193.1 220.6,193.5 221.5,193.9 222.4,194.2 223.3,194.5 224.2,194.9 225.1,195.2 226.0,195.5 226.9,195.8 227.8,196.0 228.7,196.3 229.6,196.4 230.5,196.6 231.4,196.8 232.3,197.0 233.2,197.1 234.1,197.3 235.0,197.4 235.9,197.5 236.8,197.6 237.7,197.7 238.6,197.8 239.5,197.9 240.4,197.9 241.3,198.0 242.2,198.0 243.1,198.1 244.0,198.1 244.9,198.1 245.8,198.2 246.7,198.2 247.6,198.2 248.5,198.2 249.4,198.2 250.3,198.2 251.2,198.3 252.1,198.3 253.0,198.3 253.9,198.3 254.8,198.3 255.7,198.3 256.6,198.3 257.5,198.3 258.4,198.3 259.3,198.4 260.2,198.4 261.1,198.4 262.0,198.4 262.9,198.4 263.8,198.4 264.8,198.4 265.7,198.4 266.6,198.4 267.5,198.4 268.4,198.4 269.3,198.4 270.2,198.4 271.1,198.4 272.0,198.4 272.9,198.4 273.8,198.4 274.7,198.4 275.6,198.4 276.5,198.4 277.4,198.4 278.3,198.4 279.2,198.4 280.1,198.4 281.0,198.4 281.9,198.4 282.8,198.4 283.7,198.4 284.6,198.4 285.5,198.4 286.4,198.4 287.3,198.4 288.2,198.4 289.1,198.4 290.0,198.4 290.9,198.4 291.8,198.4 292.7,198.4 293.6,198.4 294.5,198.4 295.4,198.4 296.3,198.4 297.2,198.4 298.1,198.4 299.0,198.4 299.9,198.4 300.8,198.4 301.7,198.4 302.6,198.4 303.5,198.4 304.4,198.4 305.3,198.4 306.2,198.4 307.1,198.4 308.0,198.4 308.9,198.4 309.8,198.4"/>
<polyline stroke="#ff0080" points="39.5,153.0 40.4,155.3 41.3,157.6 42.2,159.7 43.1,161.8 44.0,163.8 44.9,165.8 45.8,167.6 46.7,169.3 47.6,170.7 48.5,172.1 49.4,173.3 50.3,174.3 51.2,175.3 52.1,176.2 53.0,176.9 53.9,177.5 54.8,178.1 55.7,178.6 56.6,179.0 57.5,179.3 58.4,179.5 59.3,179.7 60.2,179.9 61.1,180.0 62.0,180.0 62.9,180.0 63.8,179.9 64.7,179.8 65.6,179.7 66.5,179.6 67.4,179.3 68.3,178.9 69.2,178.5 70.1,178.0 71.0,177.4 71.9,176.9 72.8,176.3 73.7,175.7 74.6,175.3 75.5,174.9 76.4,174.5 77.3,174.2 78.2,173.9 79.1,173.7 80.0,173.5 80.9,173.4 81.8,173.3 82.7,173.3 83.6,173.4 84.6,173.6 85.5,173.8 86.4,174.1 87.3,174.4 88.2,174.8 89.1,175.3 90.0,175.9 90.9,176.5 91.8,177.1 92.7,177.6 93.6,178.2 94.5,178.8 95.4,179.5 96.3,180.1 97.2,180.8 98.1,181.4 99.0,182.0 99.9,182.5 100.8,183.1 101.7,183.6 102.6,184.2 103.5,184.7 104.4,185.3 105.3,186.0 106.2,186.6 107.1,187.2 108.0,187.7 108.9,188.1 109.8,188.4 110.7,188.8 111.6,189.0 112.5,189.3 113.4,189.5 114.3,189.8 115.2,190.0 116.1,190.2 117.0,190.4 117.9,190.6 118.8,190.7 119.7,190.8 120.6,190.8 121.5,190.8 122.4,190.8 123.3,190.8 124.2,190.8 125.1,190.7 126.0,190.7 126.9,190.6 127.8,190.5 128.7,190.4 129.6,190.3 130.5,190.1 131.4,190.0 132.3,189.9 133.2,189.7 134.1,189.6 135.0,189.4 135.9,189.2 136.8,189.1 137.7,188.9 138.6,188.7 139.5,188.5 140.4,188.3 141.3,188.1 142.2,187.8 143.1,187.6 144.0,187.3 144.9,187.0 145.8,186.7 146.7,186.4 147.6,186.0 148.5,185.7 149.4,185.4 150.3,185.1 151.2,184.7 152.1,184.4 153.0,184.1 153.9,183.8 154.8,183.5 155.7,183.2 156.6,182.9 157.5,182.6 158.4,182.4 159.3,182.1 160.2,181.9 161.1,181.6 162.0,181.4 162.9,181.3 163.8,181.1 164.7,180.9 165.6,180.7 166.5,180.6 167.4,180.5 168.3,180.3 169.2,180.2 170.1,180.2 171.0,180.1 171.9,180.0 172.8,180.0 173.7,180.0 174.7,180.0 175.6,179.9 176.5,179.9 177.4,180.0 178.3,180.0 179.2,180.1 180.1,180.2 181.0,180.3 181.9,180.4 182.8,180.6 183.7,180.8 184.6,181.0 185.5,181.3 186.4,181.5 187.3,181.8 188.2,182.1 189.1,182.4 190.0,182.7 190.9,183.0 191.8,183.4 192.7,183.7 193.6,184.1 194.5,184.5 195.4,184.9 196.3,185.3 197.2,185.7 198.1,186.1 199.0,186.4 199.9,186.8 200.8,187.2 201.7,187.5 202.6,187.9 203.5,188.2 204.4,188.6 205.3,188.9 206.2,189.3 207.1,189.7 208.0,190.1 208.9,190.5 209.8,190.8 210.7,191.2 211.6,191.6 212.5,192.0 213.4,192.3 214.3,192.7 215.2,193.0 216.1,193.4 217.0,193.7 217.9,194.0 218.8,194.3 219.7,194.6 220.6,194.8 221.5,195.1 222.4,195.3 223.3,195.6 224.2,195.8 225.1,196.1 226.0,196.3 226.9,196.5 227.8,196.7 228.7,196.8 229.6,197.0 230.5,197.1 231.4,197.2 232.3,197.3 233.2,197.5 234.1,197.6 235.0,197.7 235.9,197.7 236.8,197.8 237.7,197.9 238.6,197.9 239.5,198.0 240.4,198.0 241.3,198.1 242.2,198.1 243.1,198.2 244.0,198.2 244.9,198.2 245.8,198.2 246.7,198.2 247.6,198.3 248.5,198.3 249.4,198.3 250.3,198.3 251.2,198.3 252.1,198.3 253.0,198.3 253.9,198.4 254.8,198.4 255.7,198.4 256.6,198.4 257.5,198.4 258.4,198.4 259.3,198.4 260.2,198.4 261.1,198.4 262.0,198.4 262.9,198.4 263.8,198.4 264.8,198.4 265.7,198.4 266.6,198.4 267.5,198.4 268.4,198.4 269.3,198.4 270.2,198.4 271.1,198.4 272.0,198.4 272.9,198.4 273.8,198.4 274.7,198.4 275.6,198.4 276.5,198.4 277.4,198.4 278.3,198.5 279.2,198.5 280.1,198.5 281.0,198.5 281.9,198.5 282.8,198.5 283.7,198.5 284.6,198.5 285.5,198.5 286.4,198.5 287.3,198.5 288.2,198.5 289.1,198.5 290.0,198.5 290.9,198.5 291.8,198.5 292.7,198.5 293.6,198.5 294.5,198.5 295.4,198.5 296.3,198.5 297.2,198.5 298.1,198.5 299.0,198.5 299.9,198.5 300.8,198.5 301.7,198.5 302.6,198.5 303.5,198.5 304.4,198.5 305.3,198.5 306.2,198.5 307.1,198.5 308.0,198.5 308.9,198.5 309.8,198.5"/>
<polyline stroke="#008000" points="39.5,152.5 40.4,154.9 41.3,157.2 42.2,159.4 43.1,161.5 44.0,163.5 44.9,165.5 45.8,167.4 46.7,169.1 47.6,170.6 48.5,172.0 49.4,173.2 50.3,174.3 51.2,175.3 52.1,176.2 53.0,177.0 53.9,177.6 54.8,178.2 55.7,178.7 56.6,179.1 57.5,179.4 58.4,179.7 59.3,179.9 60.2,180.1 61.1,180.2 62.0,180.3 62.9,180.3 63.8,180.2 64.7,180.1 65.6,180.0 66.5,179.9 67.4,179.6 68.3,179.2 69.2,178.7 70.1,178.2 71.0,177.6 71.9,177.0 72.8,176.4 73.7,175.9 74.6,175.4 75.5,175.0 76.4,174.5 77.3,174.2 78.2,173.9 79.1,173.7 80.0,173.5 80.9,173.4 81.8,173.3 82.7,173.3 83.6,173.4 84.6,173.6 85.5,173.8 86.4,174.1 87.3,174.4 88.2,174.8 89.1,175.4 90.0,175.9 90.9,176.6 91.8,177.2 92.7,177.8 93.6,178.4 94.5,179.1 95.4,179.7 96.3,180.4 97.2,181.1 98.1,181.7 99.0,182.3 99.9,182.9 100.8,183.5 101.7,184.1 102.6,184.7 103.5,185.3 104.4,185.9 105.3,186.6 106.2,187.3 107.1,187.9 108.0,188.4 108.9,188.9 109.8,189.3 110.7,189.6 111.6,190.0 112.5,190.3 113.4,190.6 114.3,190.8 115.2,191.1 116.1,191.4 117.0,191.6 117.9,191.8 118.8,192.0 119.7,192.1 120.6,192.2 121.5,192.3 122.4,192.3 123.3,192.4 124.2,192.4 125.1,192.4 126.0,192.4 126.9,192.4 127.8,192.4 128.7,192.3 129.6,192.2 130.5,192.2 131.4,192.1 132.3,192.0 133.2,191.9 134.1,191.8 135.0,191.8 135.9,191.7 136.8,191.5 137.7,191.4 138.6,191.3 139.5,191.2 140.4,191.0 141.3,190.9 142.2,190.7 143.1,190.6 144.0,190.4 144.9,190.2 145.8,190.0 146.7,189.8 147.6,189.5 148.5,189.3 149.4,189.1 150.3,188.8 151.2,188.6 152.1,188.4 153.0,188.2 153.9,188.0 154.8,187.8 155.7,187.6 156.6,187.4 157.5,187.2 158.4,187.0 159.3,186.8 160.2,186.6 161.1,186.5 162.0,186.3 162.9,186.2 163.8,186.1 164.7,186.0 165.6,185.9 166.5,185.8 167.4,185.7 168.3,185.6 169.2,185.5 170.1,185.5 171.0,185.4 171.9,185.4 172.8,185.4 173.7,185.4 174.7,185.3 175.6,185.3 176.5,185.3 177.4,185.4 178.3,185.4 179.2,185.4 180.1,185.5 181.0,185.6 181.9,185.7 182.8,185.8 183.7,186.0 184.6,186.1 185.5,186.3 186.4,186.5 187.3,186.7 188.2,186.9 189.1,187.2 190.0,187.4 190.9,187.6 191.8,187.9 192.7,188.1 193.6,188.4 194.5,188.7 195.4,188.9 196.3,189.2 197.2,189.5 198.1,189.8 199.0,190.1 199.9,190.4 200.8,190.6 201.7,190.9 202.6,191.1 203.5,191.4 204.4,191.7 205.3,191.9 206.2,192.2 207.1,192.5 208.0,192.8 208.9,193.0 209.8,193.3 210.7,193.6 211.6,193.9 212.5,194.1 213.4,194.4 214.3,194.7 215.2,194.9 216.1,195.2 217.0,195.4 217.9,195.6 218.8,195.8 219.7,196.0 220.6,196.2 221.5,196.4 222.4,196.6 223.3,196.8 224.2,197.0 225.1,197.2 226.0,197.3 226.9,197.5 227.8,197.6 228.7,197.7 229.6,197.8 230.5,197.9 231.4,198.0 232.3,198.1 233.2,198.2 234.1,198.2 235.0,198.3 235.9,198.4 236.8,198.4 237.7,198.5 238.6,198.5 239.5,198.6 240.4,198.6 241.3,198.6 242.2,198.7 243.1,198.7 244.0,198.7 244.9,198.7 245.8,198.8 246.7,198.8 247.6,198.8 248.5,198.8 249.4,198.8 250.3,198.8 251.2,198.8 252.1,198.9 253.0,198.9 253.9,198.9 254.8,198.9 255.7,198.9 256.6,198.9 257.5,198.9 258.4,198.9 259.3,198.9 260.2,198.9 261.1,198.9 262.0,199.0 262.9,199.0 263.8,199.0 264.8,199.0 265.7,199.0 266.6,199.0 267.5,199.0 268.4,199.0 269.3,199.0 270.2,199.0 271.1,199.0 272.0,199.0 272.9,199.0 273.8,199.0 274.7,199.0 275.6,199.0 276.5,199.0 277.4,199.0 278.3,199.0 279.2,199.0 280.1,199.0 281.0,199.0 281.9,199.0 282.8,199.0 283.7,199.0 284.6,199.0 285.5,199.0 286.4,199.0 287.3,199.0 288.2,199.0 289.1,199.0 290.0,199.0 290.9,199.0 291.8,199.0 292.7,199.0 293.6,199.0 294.5,199.0 295.4,199.0 296.3,199.0 297.2,199.0 298.1,199.0 299.0,199.0 299.9,199.0 300.8,199.0 301.7,199.0 302.6,199.0 303.5,199.0 304.4,199.0 305.3,199.0 306.2,199.0 307.1,199.0 308.0,199.0 308.9,199.0 309.8,199.0"/>
<polyline stroke="#0000a0" points="39.5,152.3 40.4,154.6 41.3,156.9 42.2,159.1 43.1,161.2 44.0,163.2 44.9,165.3 45.8,167.1 46.7,168.8 47.6,170.3 48.5,171.7 49.4,172.9 50.3,174.0 51.2,175.0 52.1,175.9 53.0,176.6 53.9,177.3 54.8,177.8 55.7,178.3 56.6,178.7 57.5,179.0 58.4,179.3 59.3,179.5 60.2,179.6 61.1,179.8 62.0,179.8 62.9,179.8 63.8,179.7 64.7,179.6 65.6,179.4 66.5,179.3 67.4,179.0 68.3,178.6 69.2,178.1 70.1,177.5 71.0,177.0 71.9,176.4 72.8,175.7 73.7,175.2 74.6,174.7 75.5,174.2 76.4,173.8 77.3,173.5 78.2,173.2 79.1,173.0 80.0,172.8 80.9,172.6 81.8,172.5 82.7,172.5 83.6,172.6 84.6,172.8 85.5,173.1 86.4,173.4 87.3,173.7 88.2,174.1 89.1,174.6 90.0,175.2 90.9,175.9 91.8,176.5 92.7,177.1 93.6,177.8 94.5,178.4 95.4,179.1 96.3,179.8 97.2,180.5 98.1,181.2 99.0,181.8 99.9,182.4 100.8,183.0 101.7,183.6 102.6,184.2 103.5,184.8 104.4,185.5 105.3,186.2 106.2,186.9 107.1,187.5 108.0,188.1 108.9,188.6 109.8,189.0 110.7,189.4 111.6,189.7 112.5,190.1 113.4,190.4 114.3,190.7 115.2,191.0 116.1,191.2 117.0,191.5 117.9,191.7 118.8,191.9 119.7,192.1 120.6,192.2 121.5,192.3 122.4,192.4 123.3,192.5 124.2,192.5 125.1,192.6 126.0,192.6 126.9,192.6 127.8,192.6 128.7,192.6 129.6,192.5 130.5,192.5 131.4,192.5 132.3,192.4 133.2,192.4 134.1,192.3 135.0,192.2 135.9,192.2 136.8,192.1 137.7,192.0 138.6,192.0 139.5,191.9 140.4,191.8 141.3,191.7 142.2,191.5 143.1,191.4 144.0,191.3 144.9,191.1 145.8,191.0 146.7,190.8 147.6,190.6 148.5,190.4 149.4,190.3 150.3,190.1 151.2,189.9 152.1,189.8 153.0,189.6 153.9,189.4 154.8,189.3 155.7,189.1 156.6,189.0 157.5,188.8 158.4,188.7 159.3,188.5 160.2,188.4 161.1,188.3 162.0,188.2 162.9,188.1 163.8,188.0 164.7,187.9 165.6,187.8 166.5,187.8 167.4,187.7 168.3,187.6 169.2,187.6 170.1,187.5 171.0,187.5 171.9,187.5 172.8,187.5 173.7,187.5 174.7,187.4 175.6,187.4 176.5,187.4 177.4,187.5 178.3,187.5 179.2,187.5 180.1,187.6 181.0,187.6 181.9,187.7 182.8,187.8 183.7,188.0 184.6,188.1 185.5,188.2 186.4,188.4 187.3,188.6 188.2,188.7 189.1,188.9 190.0,189.1 190.9,189.3 191.8,189.5 192.7,189.7 193.6,189.9 194.5,190.1 195.4,190.4 196.3,190.6 197.2,190.8 198.1,191.1 199.0,191.3 199.9,191.5 200.8,191.7 201.7,191.9 202.6,192.1 203.5,192.3 204.4,192.6 205.3,192.8 206.2,193.0 207.1,193.2 208.0,193.4 208.9,193.7 209.8,193.9 210.7,194.1 211.6,194.3 212.5,194.5 213.4,194.7 214.3,195.0 215.2,195.2 216.1,195.4 217.0,195.6 217.9,195.7 218.8,195.9 219.7,196.1 220.6,196.2 221.5,196.4 222.4,196.5 223.3,196.7 224.2,196.8 225.1,197.0 226.0,197.1 226.9,197.2 227.8,197.3 228.7,197.4 229.6,197.5 230.5,197.6 231.4,197.7 232.3,197.7 233.2,197.8 234.1,197.9 235.0,197.9 235.9,198.0 236.8,198.0 237.7,198.1 238.6,198.1 239.5,198.1 240.4,198.2 241.3,198.2 242.2,198.2 243.1,198.2 244.0,198.2 244.9,198.3 245.8,198.3 246.7,198.3 247.6,198.3 248.5,198.3 249.4,198.3 250.3,198.4 251.2,198.4 252.1,198.4 253.0,198.4 253.9,198.4 254.8,198.4 255.7,198.4 256.6,198.4 257.5,198.4 258.4,198.5 259.3,198.5 260.2,198.5 261.1,198.5 262.0,198.5 262.9,198.5 263.8,198.5 264.8,198.5 265.7,198.5 266.6,198.5 267.5,198.5 268.4,198.5 269.3,198.5 270.2,198.5 271.1,198.5 272.0,198.5 272.9,198.5 273.8,198.5 274.7,198.5 275.6,198.5 276.5,198.5 277.4,198.5 278.3,198.5 279.2,198.5 280.1,198.5 281.0,198.5 281.9,198.5 282.8,198.5 283.7,198.5 284.6,198.5 285.5,198.5 286.4,198.5 287.3,198.5 288.2,198.5 289.1,198.5 290.0,198.5 290.9,198.5 291.8,198.5 292.7,198.5 293.6,198.5 294.5,198.5 295.4,198.5 296.3,198.5 297.2,198.5 298.1,198.5 299.0,198.5 299.9,198.5 300.8,198.5 301.7,198.5 302.6,198.5 303.5,198.5 304.4,198.5 305.3,198.5 306.2,198.5 307.1,198.5 308.0,198.5 308.9,198.5 309.8,198.5"/>
<polyline stroke="#ff8000" points="39.5,152.1 40.4,154.4 41.3,156.7 42.2,158.9 43.1,161.0 44.0,163.0 44.9,165.0 45.8,166.9 46.7,168.6 47.6,170.1 48.5,171.5 49.4,172.7 50.3,173.8 51.2,174.8 52.1,175.6 53.0,176.4 53.9,177.1 54.8,177.6 55.7,178.1 56.6,178.5 57.5,178.8 58.4,179.0 59.3,179.2 60.2,179.4 61.1,179.5 62.0,179.5 62.9,179.5 63.8,179.4 64.7,179.3 65.6,179.1 66.5,178.9 67.4,178.7 68.3,178.2 69.2,177.7 70.1,177.2 71.0,176.6 71.9,176.0 72.8,175.3 73.7,174.8 74.6,174.3 75.5,173.8 76.4,173.4 77.3,173.0 78.2,172.7 79.1,172.5 80.0,172.3 80.9,172.1 81.8,172.0 82.7,172.0 83.6,172.2 84.6,172.4 85.5,172.6 86.4,172.9 87.3,173.2 88.2,173.7 89.1,174.2 90.0,174.8 90.9,175.5 91.8,176.1 92.7,176.7 93.6,177.4 94.5,178.1 95.4,178.8 96.3,179.5 97.2,180.2 98.1,180.8 99.0,181.5 99.9,182.1 100.8,182.7 101.7,183.3 102.6,183.9 103.5,184.6 104.4,185.2 105.3,186.0 106.2,186.7 107.1,187.4 108.0,188.0 108.9,188.5 109.8,188.9 110.7,189.3 111.6,189.7 112.5,190.0 113.4,190.4 114.3,190.7 115.2,191.0 116.1,191.3 117.0,191.6 117.9,191.8 118.8,192.1 119.7,192.3 120.6,192.4 121.5,192.5 122.4,192.6 123.3,192.7 124.2,192.8 125.1,192.9 126.0,192.9 126.9,193.0 127.8,193.0 128.7,193.0 129.6,193.0 130.5,193.0 131.4,193.0 132.3,192.9 133.2,192.9 134.1,192.9 135.0,192.9 135.9,192.8 136.8,192.8 137.7,192.7 138.6,192.7 139.5,192.6 140.4,192.6 141.3,192.5 142.2,192.4 143.1,192.3 144.0,192.2 144.9,192.1 145.8,192.0 146.7,191.9 147.6,191.8 148.5,191.6 149.4,191.5 150.3,191.4 151.2,191.2 152.1,191.1 153.0,191.0 153.9,190.9 154.8,190.8 155.7,190.6 156.6,190.5 157.5,190.4 158.4,190.3 159.3,190.2 160.2,190.1 161.1,190.0 162.0,190.0 162.9,189.9 163.8,189.8 164.7,189.8 165.6,189.7 166.5,189.7 167.4,189.6 168.3,189.6 169.2,189.5 170.1,189.5 171.0,189.5 171.9,189.5 172.8,189.5 173.7,189.5 174.7,189.4 175.6,189.4 176.5,189.4 177.4,189.5 178.3,189.5 179.2,189.5 180.1,189.6 181.0,189.6 181.9,189.7 182.8,189.8 183.7,189.9 184.6,190.0 185.5,190.1 186.4,190.2 187.3,190.4 188.2,190.5 189.1,190.7 190.0,190.8 190.9,191.0 191.8,191.1 192.7,191.3 193.6,191.4 194.5,191.6 195.4,191.8 196.3,192.0 197.2,192.1 198.1,192.3 199.0,192.5 199.9,192.7 200.8,192.8 201.7,193.0 202.6,193.2 203.5,193.3 204.4,193.5 205.3,193.7 206.2,193.9 207.1,194.0 208.0,194.2 208.9,194.4 209.8,194.6 210.7,194.7 211.6,194.9 212.5,195.1 213.4,195.2 214.3,195.4 215.2,195.6 216.1,195.7 217.0,195.9 217.9,196.0 218.8,196.2 219.7,196.3 220.6,196.4 221.5,196.5 222.4,196.7 223.3,196.8 224.2,196.9 225.1,197.0 226.0,197.1 226.9,197.2 227.8,197.3 228.7,197.4 229.6,197.4 230.5,197.5 231.4,197.6 232.3,197.6 233.2,197.7 234.1,197.7 235.0,197.8 235.9,197.8 236.8,197.8 237.7,197.9 238.6,197.9 239.5,197.9 240.4,197.9 241.3,198.0 242.2,198.0 243.1,198.0 244.0,198.0 244.9,198.0 245.8,198.1 246.7,198.1 247.6,198.1 248.5,198.1 249.4,198.1 250.3,198.1 251.2,198.1 252.1,198.2 253.0,198.2 253.9,198.2 254.8,198.2 255.7,198.2 256.6,198.2 257.5,198.2 258.4,198.2 259.3,198.2 260.2,198.2 261.1,198.2 262.0,198.3 262.9,198.3 263.8,198.3 264.8,198.3 265.7,198.3 266.6,198.3 267.5,198.3 268.4,198.3 269.3,198.3 270.2,198.3 271.1,198.3 272.0,198.3 272.9,198.3 273.8,198.3 274.7,198.3 275.6,198.3 276.5,198.3 277.4,198.3 278.3,198.3 279.2,198.3 280.1,198.3 281.0,198.3 281.9,198.3 282.8,198.3 283.7,198.3 284.6,198.3 285.5,198.3 286.4,198.3 287.3,198.3 288.2,198.3 289.1,198.3 290.0,198.3 290.9,198.3 291.8,198.3 292.7,198.3 293.6,198.3 294.5,198.3 295.4,198.3 296.3,198.3 297.2,198.3 298.1,198.3 299.0,198.3 299.9,198.3 300.8,198.3 301.7,198.3 302.6,198.3 303.5,198.3 304.4,198.3 305.3,198.3 306.2,198.3 307.1,198.3 308.0,198.3 308.9,198.3 309.8,198.3"/>
<polyline stroke="#800080" points="39.5,151.9 40.4,154.3 41.3,156.5 42.2,158.7 43.1,160.8 44.0,162.9 44.9,164.9 45.8,166.8 46.7,168.4 47.6,169.9 48.5,171.3 49.4,172.5 50.3,173.6 51.2,174.6 52.1,175.5 53.0,176.2 53.9,176.9 54.8,177.4 55.7,177.9 56.6,178.3 57.5,178.6 58.4,178.8 59.3,179.0 60.2,179.1 61.1,179.2 62.0,179.3 62.9,179.2 63.8,179.1 64.7,179.0 65.6,178.8 66.5,178.6 67.4,178.4 68.3,177.9 69.2,177.4 70.1,176.8 71.0,176.3 71.9,175.6 72.8,175.0 73.7,174.4 74.6,173.9 75.5,173.4 76.4,173.0 77.3,172.6 78.2,172.3 79.1,172.1 80.0,171.9 80.9,171.7 81.8,171.6 82.7,171.7 83.6,171.8 84.6,172.0 85.5,172.2 86.4,172.5 87.3,172.9 88.2,173.3 89.1,173.8 90.0,174.4 90.9,175.1 91.8,175.8 92.7,176.4 93.6,177.0 94.5,177.7 95.4,178.4 96.3,179.2 97.2,179.9 98.1,180.6 99.0,181.2 99.9,181.8 100.8,182.4 101.7,183.1 102.6,183.7 103.5,184.3 104.4,185.0 105.3,185.8 106.2,186.5 107.1,187.2 108.0,187.8 108.9,188.3 109.8,188.8 110.7,189.2 111.6,189.6 112.5,189.9 113.4,190.3 114.3,190.6 115.2,190.9 116.1,191.3 117.0,191.6 117.9,191.8 118.8,192.1 119.7,192.3 120.6,192.4 121.5,192.6 122.4,192.7 123.3,192.8 124.2,192.9 125.1,193.0 126.0,193.1 126.9,193.1 127.8,193.2 128.7,193.2 129.6,193.2 130.5,193.2 131.4,193.2 132.3,193.2 133.2,193.2 134.1,193.2 135.0,193.2 135.9,193.2 136.8,193.2 137.7,193.1 138.6,193.1 139.5,193.1 140.4,193.0 141.3,193.0 142.2,192.9 143.1,192.9 144.0,192.8 144.9,192.7 145.8,192.6 146.7,192.5 147.6,192.4 148.5,192.3 149.4,192.2 150.3,192.1 151.2,192.1 152.1,192.0 153.0,191.9 153.9,191.8 154.8,191.7 155.7,191.6 156.6,191.5 157.5,191.4 158.4,191.3 159.3,191.3 160.2,191.2 161.1,191.2 162.0,191.1 162.9,191.1 163.8,191.0 164.7,191.0 165.6,190.9 166.5,190.9 167.4,190.8 168.3,190.8 169.2,190.8 170.1,190.8 171.0,190.8 171.9,190.7 172.8,190.7 173.7,190.7 174.7,190.7 175.6,190.7 176.5,190.7 177.4,190.7 178.3,190.7 179.2,190.8 180.1,190.8 181.0,190.9 181.9,190.9 182.8,191.0 183.7,191.1 184.6,191.2 185.5,191.3 186.4,191.4 187.3,191.5 188.2,191.6 189.1,191.7 190.0,191.9 190.9,192.0 191.8,192.1 192.7,192.2 193.6,192.4 194.5,192.5 195.4,192.6 196.3,192.8 197.2,192.9 198.1,193.1 199.0,193.2 199.9,193.4 200.8,193.5 201.7,193.7 202.6,193.8 203.5,193.9 204.4,194.1 205.3,194.2 206.2,194.4 207.1,194.5 208.0,194.6 208.9,194.8 209.8,194.9 210.7,195.1 211.6,195.2 212.5,195.3 213.4,195.5 214.3,195.6 215.2,195.8 216.1,195.9 217.0,196.0 217.9,196.1 218.8,196.2 219.7,196.4 220.6,196.5 221.5,196.6 222.4,196.7 223.3,196.8 224.2,196.9 225.1,197.0 226.0,197.0 226.9,197.1 227.8,197.2 228.7,197.2 229.6,197.3 230.5,197.3 231.4,197.4 232.3,197.4 233.2,197.5 234.1,197.5 235.0,197.6 235.9,197.6 236.8,197.6 237.7,197.7 238.6,197.7 239.5,197.7 240.4,197.7 241.3,197.7 242.2,197.8 243.1,197.8 244.0,197.8 244.9,197.8 245.8,197.8 246.7,197.8 247.6,197.9 248.5,197.9 249.4,197.9 250.3,197.9 251.2,197.9 252.1,197.9 253.0,197.9 253.9,197.9 254.8,198.0 255.7,198.0 256.6,198.0 257.5,198.0 258.4,198.0 259.3,198.0 260.2,198.0 261.1,198.0 262.0,198.0 262.9,198.0 263.8,198.0 264.8,198.0 265.7,198.0 266.6,198.0 267.5,198.0 268.4,198.0 269.3,198.0 270.2,198.0 271.1,198.0 272.0,198.0 272.9,198.0 273.8,198.0 274.7,198.0 275.6,198.0 276.5,198.0 277.4,198.0 278.3,198.0 279.2,198.0 280.1,198.0 281.0,198.0 281.9,198.0 282.8,198.0 283.7,198.0 284.6,198.0 285.5,198.0 286.4,198.0 287.3,198.0 288.2,198.0 289.1,198.0 290.0,198.0 290.9,198.0 291.8,198.0 292.7,198.0 293.6,198.0 294.5,198.0 295.4,198.0 296.3,198.0 297.2,198.0 298.1,198.0 299.0,198.0 299.9,198.0 300.8,198.0 301.7,198.0 302.6,198.0 303.5,198.0 304.4,198.0 305.3,198.0 306.2,198.0 307.1,198.0 308.0,198.0 308.9,198.0 309.8,198.0"/>
<polyline stroke="#8000ff" points="39.5,151.8 40.4,154.1 41.3,156.3 42.2,158.5 43.1,160.6 44.0,162.6 44.9,164.6 45.8,166.5 46.7,168.1 47.6,169.6 48.5,171.0 49.4,172.2 50.3,173.2 51.2,174.2 52.1,175.1 53.0,175.8 53.9,176.4 54.8,176.9 55.7,177.4 56.6,177.8 57.5,178.0 58.4,178.2 59.3,178.4 60.2,178.5 61.1,178.6 62.0,178.6 62.9,178.5 63.8,178.4 64.7,178.2 65.6,178.0 66.5,177.8 67.4,177.6 68.3,177.1 69.2,176.6 70.1,176.0 71.0,175.4 71.9,174.8 72.8,174.1 73.7,173.5 74.6,173.0 75.5,172.5 76.4,172.1 77.3,171.7 78.2,171.4 79.1,171.2 80.0,171.0 80.9,170.8 81.8,170.7 82.7,170.7 83.6,170.9 84.6,171.1 85.5,171.3 86.4,171.6 87.3,172.0 88.2,172.4 89.1,172.9 90.0,173.6 90.9,174.2 91.8,174.9 92.7,175.5 93.6,176.2 94.5,176.9 95.4,177.6 96.3,178.4 97.2,179.1 98.1,179.8 99.0,180.4 99.9,181.1 100.8,181.7 101.7,182.3 102.6,182.9 103.5,183.6 104.4,184.3 105.3,185.1 106.2,185.9 107.1,186.6 108.0,187.2 108.9,187.7 109.8,188.2 110.7,188.6 111.6,189.0 112.5,189.4 113.4,189.8 114.3,190.1 115.2,190.4 116.1,190.8 117.0,191.1 117.9,191.4 118.8,191.6 119.7,191.9 120.6,192.0 121.5,192.2 122.4,192.3 123.3,192.5 124.2,192.6 125.1,192.7 126.0,192.8 126.9,192.9 127.8,192.9 128.7,193.0 129.6,193.0 130.5,193.0 131.4,193.1 132.3,193.1 133.2,193.1 134.1,193.1 135.0,193.1 135.9,193.2 136.8,193.2 137.7,193.2 138.6,193.2 139.5,193.1 140.4,193.1 141.3,193.1 142.2,193.1 143.1,193.1 144.0,193.0 144.9,193.0 145.8,192.9 146.7,192.9 147.6,192.8 148.5,192.8 149.4,192.7 150.3,192.6 151.2,192.6 152.1,192.5 153.0,192.5 153.9,192.4 154.8,192.3 155.7,192.3 156.6,192.2 157.5,192.2 158.4,192.1 159.3,192.1 160.2,192.1 161.1,192.0 162.0,192.0 162.9,192.0 163.8,191.9 164.7,191.9 165.6,191.9 166.5,191.9 167.4,191.9 168.3,191.8 169.2,191.8 170.1,191.8 171.0,191.8 171.9,191.8 172.8,191.8 173.7,191.8 174.7,191.8 175.6,191.8 176.5,191.8 177.4,191.8 178.3,191.8 179.2,191.8 180.1,191.9 181.0,191.9 181.9,192.0 182.8,192.0 183.7,192.1 184.6,192.2 185.5,192.2 186.4,192.3 187.3,192.4 188.2,192.5 189.1,192.6 190.0,192.7 190.9,192.8 191.8,192.9 192.7,192.9 193.6,193.0 194.5,193.1 195.4,193.2 196.3,193.3 197.2,193.5 198.1,193.6 199.0,193.7 199.9,193.8 200.8,193.9 201.7,194.0 202.6,194.1 203.5,194.2 204.4,194.3 205.3,194.4 206.2,194.5 207.1,194.6 208.0,194.7 208.9,194.8 209.8,194.9 210.7,195.0 211.6,195.1 212.5,195.2 213.4,195.3 214.3,195.4 215.2,195.5 216.1,195.6 217.0,195.7 217.9,195.8 218.8,195.9 219.7,196.0 220.6,196.1 221.5,196.2 222.4,196.2 223.3,196.3 224.2,196.4 225.1,196.4 226.0,196.5 226.9,196.6 227.8,196.6 228.7,196.7 229.6,196.7 230.5,196.7 231.4,196.8 232.3,196.8 233.2,196.8 234.1,196.9 235.0,196.9 235.9,196.9 236.8,196.9 237.7,197.0 238.6,197.0 239.5,197.0 240.4,197.0 241.3,197.0 242.2,197.1 243.1,197.1 244.0,197.1 244.9,197.1 245.8,197.1 246.7,197.1 247.6,197.1 248.5,197.2 249.4,197.2 250.3,197.2 251.2,197.2 252.1,197.2 253.0,197.2 253.9,197.2 254.8,197.2 255.7,197.2 256.6,197.3 257.5,197.3 258.4,197.3 259.3,197.3 260.2,197.3 261.1,197.3 262.0,197.3 262.9,197.3 263.8,197.3 264.8,197.3 265.7,197.3 266.6,197.3 267.5,197.3 268.4,197.3 269.3,197.3 270.2,197.3 271.1,197.3 272.0,197.3 272.9,197.3 273.8,197.3 274.7,197.3 275.6,197.3 276.5,197.3 277.4,197.3 278.3,197.3 279.2,197.3 280.1,197.3 281.0,197.3 281.9,197.3 282.8,197.3 283.7,197.3 284.6,197.3 285.5,197.3 286.4,197.3 287.3,197.3 288.2,197.3 289.1,197.3 290.0,197.3 290.9,197.3 291.8,197.3 292.7,197.3 293.6,197.3 294.5,197.3 295.4,197.3 296.3,197.3 297.2,197.3 298.1,197.3 299.0,197.3 299.9,197.3 300.8,197.3 301.7,197.3 302.6,197.3 303.5,197.3 304.4,197.3 305.3,197.3 306.2,197.3 307.1,197.3 308.0,197.3 308.9,197.3 309.8,197.3"/>
<polyline stroke="#000000" points="39.5,153.2 40.4,155.5 41.3,157.8 42.2,159.9 43.1,161.9 44.0,163.9 44.9,165.6 45.8,167.2 46.7,168.4 47.6,169.3 48.5,169.9 49.4,170.3 50.3,170.7 51.2,171.2 52.1,171.8 53.0,172.8 53.9,173.9 54.8,175.1 55.7,176.3 56.6,177.4 57.5,178.3 58.4,178.9 59.3,179.4 60.2,179.8 61.1,180.0 62.0,180.1 62.9,180.1 63.8,180.0 64.7,179.9 65.6,179.8 66.5,179.7 67.4,179.4 68.3,179.1 69.2,178.6 70.1,178.1 71.0,177.6 71.9,177.0 72.8,176.4 73.7,175.9 74.6,175.5 75.5,175.1 76.4,174.7 77.3,174.4 78.2,174.1 79.1,173.9 80.0,173.8 80.9,173.6 81.8,173.5 82.7,173.5 83.6,173.6 84.6,173.8 85.5,174.1 86.4,174.3 87.3,174.6 88.2,175.0 89.1,175.5 90.0,176.1 90.9,176.6 91.8,177.2 92.7,177.8 93.6,178.4 94.5,179.0 95.4,179.6 96.3,180.2 97.2,180.9 98.1,181.4 99.0,182.0 99.9,182.6 100.8,183.1 101.7,183.6 102.6,184.2 103.5,184.7 104.4,185.3 105.3,185.9 106.2,186.5 107.1,187.1 108.0,187.6 108.9,187.9 109.8,188.3 110.7,188.6 111.6,188.8 112.5,189.1 113.4,189.3 114.3,189.5 115.2,189.7 116.1,189.9 117.0,190.1 117.9,190.2 118.8,190.3 119.7,190.4 120.6,190.4 121.5,190.4 122.4,190.4 123.3,190.3 124.2,190.3 125.1,190.2 126.0,190.1 126.9,190.0 127.8,189.9 128.7,189.7 129.6,189.6 130.5,189.4 131.4,189.2 132.3,189.1 133.2,188.9 134.1,188.7 135.0,188.5 135.9,188.3 136.8,188.1 137.7,187.9 138.6,187.7 139.5,187.4 140.4,187.2 141.3,186.9 142.2,186.6 143.1,186.4 144.0,186.0 144.9,185.7 145.8,185.4 146.7,185.0 147.6,184.6 148.5,184.2 149.4,183.8 150.3,183.5 151.2,183.1 152.1,182.7 153.0,182.4 153.9,182.0 154.8,181.7 155.7,181.3 156.6,181.0 157.5,180.7 158.4,180.4 159.3,180.1 160.2,179.8 161.1,179.6 162.0,179.3 162.9,179.1 163.8,178.9 164.7,178.7 165.6,178.5 166.5,178.4 167.4,178.2 168.3,178.1 169.2,177.9 170.1,177.8 171.0,177.8 171.9,177.7 172.8,177.7 173.7,177.6 174.7,177.6 175.6,177.6 176.5,177.6 177.4,177.6 178.3,177.7 179.2,177.8 180.1,177.8 181.0,178.0 181.9,178.1 182.8,178.3 183.7,178.5 184.6,178.8 185.5,179.1 186.4,179.4 187.3,179.7 188.2,180.0 189.1,180.3 190.0,180.7 190.9,181.1 191.8,181.5 192.7,181.8 193.6,182.3 194.5,182.7 195.4,183.1 196.3,183.6 197.2,184.0 198.1,184.5 199.0,184.9 199.9,185.3 200.8,185.7 201.7,186.1 202.6,186.5 203.5,186.9 204.4,187.3 205.3,187.7 206.2,188.1 207.1,188.6 208.0,189.0 208.9,189.4 209.8,189.9 210.7,190.3 211.6,190.7 212.5,191.2 213.4,191.6 214.3,192.0 215.2,192.4 216.1,192.7 217.0,193.1 217.9,193.5 218.8,193.8 219.7,194.1 220.6,194.4 221.5,194.7 222.4,195.0 223.3,195.2 224.2,195.5 225.1,195.8 226.0,196.0 226.9,196.3 227.8,196.5 228.7,196.6 229.6,196.8 230.5,196.9 231.4,197.1 232.3,197.2 233.2,197.3 234.1,197.5 235.0,197.6 235.9,197.7 236.8,197.8 237.7,197.8 238.6,197.9 239.5,198.0 240.4,198.0 241.3,198.1 242.2,198.1 243.1,198.1 244.0,198.2 244.9,198.2 245.8,198.2 246.7,198.2 247.6,198.2 248.5,198.3 249.4,198.3 250.3,198.3 251.2,198.3 252.1,198.3 253.0,198.3 253.9,198.3 254.8,198.3 255.7,198.4 256.6,198.4 257.5,198.4 258.4,198.4 259.3,198.4 260.2,198.4 261.1,198.4 262.0,198.4 262.9,198.4 263.8,198.4 264.8,198.4 265.7,198.4 266.6,198.4 267.5,198.4 268.4,198.4 269.3,198.4 270.2,198.4 271.1,198.4 272.0,198.4 272.9,198.4 273.8,198.4 274.7,198.4 275.6,198.4 276.5,198.4 277.4,198.4 278.3,198.4 279.2,198.4 280.1,198.4 281.0,198.4 281.9,198.4 282.8,198.4 283.7,198.4 284.6,198.4 285.5,198.4 286.4,198.4 287.3,198.4 288.2,198.4 289.1,198.4 290.0,198.4 290.9,198.4 291.8,198.4 292.7,198.4 293.6,198.4 294.5,198.4 295.4,198.4 296.3,198.4 297.2,198.4 298.1,198.4 299.0,198.4 299.9,198.4 300.8,198.4 301.7,198.4 302.6,198.4 303.5,198.4 304.4,198.4 305.3,198.4 306.2,198.4 307.1,198.4 308.0,198.4 308.9,198.4 309.8,198.4"/>
<polyline stroke="#ff0000" points="39.5,151.5 40.4,153.9 41.3,156.2 42.2,158.4 43.1,160.6 44.0,162.7 44.9,164.7 45.8,166.7 46.7,168.4 47.6,169.9 48.5,171.3 49.4,172.6 50.3,173.8 51.2,174.8 52.1,175.7 53.0,176.5 53.9,177.2 54.8,177.7 55.7,178.3 56.6,178.7 57.5,179.0 58.4,179.2 59.3,179.5 60.2,179.7 61.1,179.8 62.0,179.8 62.9,179.8 63.8,179.7 64.7,179.6 65.6,179.5 66.5,179.3 67.4,179.0 68.3,178.5 69.2,178.0 70.1,177.4 71.0,176.8 71.9,176.2 72.8,175.5 73.7,174.9 74.6,174.4 75.5,173.9 76.4,173.4 77.3,173.1 78.2,172.8 79.1,172.5 80.0,172.3 80.9,172.1 81.8,172.0 82.7,172.0 83.6,172.2 84.6,172.4 85.5,172.7 86.4,173.0 87.3,173.3 88.2,173.7 89.1,174.3 90.0,174.9 90.9,175.6 91.8,176.3 92.7,176.9 93.6,177.6 94.5,178.3 95.4,179.1 96.3,179.8 97.2,180.6 98.1,181.3 99.0,181.9 99.9,182.6 100.8,183.2 101.7,183.9 102.6,184.5 103.5,185.2 104.4,185.9 105.3,186.7 106.2,187.5 107.1,188.2 108.0,188.9 108.9,189.4 109.8,189.9 110.7,190.4 111.6,190.8 112.5,191.2 113.4,191.6 114.3,192.0 115.2,192.3 116.1,192.7 117.0,193.0 117.9,193.3 118.8,193.6 119.7,193.9 120.6,194.1 121.5,194.2 122.4,194.4 123.3,194.6 124.2,194.7 125.1,194.9 126.0,195.0 126.9,195.1 127.8,195.2 128.7,195.3 129.6,195.3 130.5,195.4 131.4,195.4 132.3,195.5 133.2,195.6 134.1,195.6 135.0,195.7 135.9,195.7 136.8,195.7 137.7,195.8 138.6,195.8 139.5,195.8 140.4,195.9 141.3,195.9 142.2,195.9 143.1,195.9 144.0,195.9 144.9,195.9 145.8,195.9 146.7,195.9 147.6,195.9 148.5,195.9 149.4,195.9 150.3,195.9 151.2,195.9 152.1,195.9 153.0,195.9 153.9,195.8 154.8,195.8 155.7,195.8 156.6,195.8 157.5,195.8 158.4,195.8 159.3,195.8 160.2,195.8 161.1,195.8 162.0,195.8 162.9,195.8 163.8,195.8 164.7,195.8 165.6,195.8 166.5,195.8 167.4,195.8 168.3,195.8 169.2,195.8 170.1,195.8 171.0,195.8 171.9,195.8 172.8,195.8 173.7,195.9 174.7,195.9 175.6,195.9 176.5,195.9 177.4,195.9 178.3,195.9 179.2,195.9 180.1,195.9 181.0,195.9 181.9,196.0 182.8,196.0 183.7,196.0 184.6,196.1 185.5,196.1 186.4,196.2 187.3,196.2 188.2,196.3 189.1,196.3 190.0,196.4 190.9,196.4 191.8,196.5 192.7,196.5 193.6,196.5 194.5,196.6 195.4,196.6 196.3,196.7 197.2,196.7 198.1,196.8 199.0,196.8 199.9,196.9 200.8,197.0 201.7,197.0 202.6,197.1 203.5,197.1 204.4,197.2 205.3,197.3 206.2,197.3 207.1,197.4 208.0,197.4 208.9,197.5 209.8,197.5 210.7,197.6 211.6,197.6 212.5,197.7 213.4,197.7 214.3,197.8 215.2,197.8 216.1,197.9 217.0,197.9 217.9,198.0 218.8,198.0 219.7,198.1 220.6,198.1 221.5,198.2 222.4,198.2 223.3,198.2 224.2,198.3 225.1,198.3 226.0,198.3 226.9,198.4 227.8,198.4 228.7,198.4 229.6,198.4 230.5,198.5 231.4,198.5 232.3,198.5 233.2,198.5 234.1,198.5 235.0,198.5 235.9,198.6 236.8,198.6 237.7,198.6 238.6,198.6 239.5,198.6 240.4,198.6 241.3,198.6 242.2,198.6 243.1,198.7 244.0,198.7 244.9,198.7 245.8,198.7 246.7,198.7 247.6,198.7 248.5,198.7 249.4,198.7 250.3,198.8 251.2,198.8 252.1,198.8 253.0,198.8 253.9,198.8 254.8,198.8 255.7,198.8 256.6,198.8 257.5,198.9 258.4,198.9 259.3,198.9 260.2,198.9 261.1,198.9 262.0,198.9 262.9,198.9 263.8,198.9 264.8,198.9 265.7,198.9 266.6,198.9 267.5,198.9 268.4,198.9 269.3,198.9 270.2,198.9 271.1,198.9 272.0,198.9 272.9,198.9 273.8,198.9 274.7,198.9 275.6,198.9 276.5,198.9 277.4,198.9 278.3,198.9 279.2,198.9 280.1,198.9 281.0,198.9 281.9,198.9 282.8,198.9 283.7,198.9 284.6,198.9 285.5,198.9 286.4,198.9 287.3,198.9 288.2,198.9 289.1,198.9 290.0,198.9 290.9,198.9 291.8,198.9 292.7,198.9 293.6,198.9 294.5,198.9 295.4,198.9 296.3,198.9 297.2,198.9 298.1,198.9 299.0,198.9 299.9,198.9 300.8,198.9 301.7,198.9 302.6,198.9 303.5,198.9 304.4,198.9 305.3,198.9 306.2,198.9 307.1,198.9 308.0,198.9 308.9,198.9 309.8,198.9"/>
</g>
<g stroke="#111" stroke-width="1.45" fill="none" stroke-linecap="square">
<rect x="39.5" y="4.8" width="270.3" height="200.6"/>
</g>
<g stroke="#000" stroke-width="1.4" fill="none">
<line x1="35.5" y1="200.5" x2="39.5" y2="200.5"/>
<line x1="36.9" y1="176.0" x2="39.5" y2="176.0"/>
<line x1="35.5" y1="151.6" x2="39.5" y2="151.6"/>
<line x1="36.9" y1="127.1" x2="39.5" y2="127.1"/>
<line x1="35.5" y1="102.6" x2="39.5" y2="102.6"/>
<line x1="36.9" y1="78.2" x2="39.5" y2="78.2"/>
<line x1="35.5" y1="53.7" x2="39.5" y2="53.7"/>
<line x1="36.9" y1="29.2" x2="39.5" y2="29.2"/>
<line x1="35.5" y1="4.8" x2="39.5" y2="4.8"/>
<line x1="39.5" y1="205.4" x2="39.5" y2="209.4"/>
<line x1="62.0" y1="205.4" x2="62.0" y2="208.0"/>
<line x1="84.6" y1="205.4" x2="84.6" y2="209.4"/>
<line x1="107.1" y1="205.4" x2="107.1" y2="208.0"/>
<line x1="129.6" y1="205.4" x2="129.6" y2="209.4"/>
<line x1="152.1" y1="205.4" x2="152.1" y2="208.0"/>
<line x1="174.7" y1="205.4" x2="174.7" y2="209.4"/>
<line x1="197.2" y1="205.4" x2="197.2" y2="208.0"/>
<line x1="219.7" y1="205.4" x2="219.7" y2="209.4"/>
<line x1="242.2" y1="205.4" x2="242.2" y2="208.0"/>
<line x1="264.8" y1="205.4" x2="264.8" y2="209.4"/>
<line x1="287.3" y1="205.4" x2="287.3" y2="208.0"/>
<line x1="309.8" y1="205.4" x2="309.8" y2="209.4"/>
</g>
<g font-family="Liberation Serif, serif" font-weight="bold" font-size="11.5" fill="#000">
<text x="33.0" y="203.9" text-anchor="end" font-size="10.8">0</text>
<text x="33.0" y="155.0" text-anchor="end" font-size="10.8">1</text>
<text x="33.0" y="106.0" text-anchor="end" font-size="10.8">2</text>
<text x="33.0" y="57.1" text-anchor="end" font-size="10.8">3</text>
<text x="33.0" y="8.2" text-anchor="end" font-size="10.8">4</text>
<text x="39.5" y="221.0" text-anchor="middle">250</text>
<text x="84.6" y="221.0" text-anchor="middle">300</text>
<text x="129.6" y="221.0" text-anchor="middle">350</text>
<text x="174.7" y="221.0" text-anchor="middle">400</text>
<text x="219.7" y="221.0" text-anchor="middle">450</text>
<text x="264.8" y="221.0" text-anchor="middle">500</text>
<text x="309.8" y="221.0" text-anchor="middle">550</text>
</g>
<g font-family="Liberation Serif, serif" font-weight="bold" fill="#000">
<text x="174.5" y="239.3" font-size="11" text-anchor="middle" letter-spacing="0.2">Wavelength (nm)</text>
<text transform="translate(13,106.2) rotate(-90)" font-size="11.5" text-anchor="middle">Absorbance</text>
<text transform="translate(0,26.0) scale(0.91,1)" font-size="26">a</text>
<text transform="translate(327.2,26.8) scale(0.93,1)" font-size="26">b</text>
</g>
<g stroke-width="1.35" fill="none">
<line x1="257" y1="12.1" x2="279" y2="12.1" stroke="#000000"/>
<line x1="257" y1="23.7" x2="279" y2="23.7" stroke="#ff0000"/>
<line x1="257" y1="35.3" x2="279" y2="35.3" stroke="#0000ff"/>
<line x1="257" y1="47.0" x2="279" y2="47.0" stroke="#008080"/>
<line x1="257" y1="58.6" x2="279" y2="58.6" stroke="#ff00ff"/>
<line x1="257" y1="70.2" x2="279" y2="70.2" stroke="#808000"/>
<line x1="257" y1="81.8" x2="279" y2="81.8" stroke="#000080"/>
<line x1="257" y1="93.4" x2="279" y2="93.4" stroke="#800000"/>
<line x1="257" y1="105.1" x2="279" y2="105.1" stroke="#ff0080"/>
<line x1="257" y1="116.7" x2="279" y2="116.7" stroke="#008000"/>
<line x1="257" y1="128.3" x2="279" y2="128.3" stroke="#0000a0"/>
<line x1="257" y1="139.9" x2="279" y2="139.9" stroke="#ff8000"/>
<line x1="257" y1="151.5" x2="279" y2="151.5" stroke="#800080"/>
<line x1="257" y1="163.2" x2="279" y2="163.2" stroke="#8000ff"/>
<line x1="257" y1="174.8" x2="279" y2="174.8" stroke="#000000"/>
<line x1="257" y1="186.4" x2="279" y2="186.4" stroke="#ff0000"/>
</g>
<g font-family="Liberation Sans, sans-serif" font-weight="bold" font-size="9" fill="#000">
<text x="280.8" y="15.4">0min</text>
<text x="280.8" y="27.0">2min</text>
<text x="280.8" y="38.6">4min</text>
<text x="280.8" y="50.3">6min</text>
<text x="280.8" y="61.9">8min</text>
<text x="280.8" y="73.5">10min</text>
<text x="280.8" y="85.1">12min</text>
<text x="280.8" y="96.7">14min</text>
<text x="280.8" y="108.4">16min</text>
<text x="280.8" y="120.0">18min</text>
<text x="280.8" y="131.6">20min</text>
<text x="280.8" y="143.2">22min</text>
<text x="280.8" y="154.8">24min</text>
<text x="280.8" y="166.5">26min</text>
<text x="280.8" y="178.1">28min</text>
<text x="280.8" y="189.7">30min</text>
</g>
<polyline fill="none" stroke="#ff8230" stroke-width="1.5" stroke-linejoin="round" points="396.2,21.4 411.7,55.1 427.1,83.2 442.5,108.2 457.9,129.0 473.4,144.8 488.8,157.1 504.2,166.6 519.6,171.6 535.1,172.9 550.5,178.4 565.9,180.8 581.3,182.7 596.8,184.4 627.6,185.0"/>
<rect x="393.8" y="18.9" width="4.9" height="4.9" fill="#fff"/>
<rect x="409.2" y="52.6" width="4.9" height="4.9" fill="#fff"/>
<rect x="424.6" y="80.8" width="4.9" height="4.9" fill="#fff"/>
<rect x="440.1" y="105.8" width="4.9" height="4.9" fill="#fff"/>
<rect x="455.5" y="126.5" width="4.9" height="4.9" fill="#fff"/>
<rect x="470.9" y="142.4" width="4.9" height="4.9" fill="#fff"/>
<rect x="486.3" y="154.7" width="4.9" height="4.9" fill="#fff"/>
<rect x="501.8" y="164.2" width="4.9" height="4.9" fill="#fff"/>
<rect x="517.2" y="169.2" width="4.9" height="4.9" fill="#fff"/>
<rect x="532.6" y="170.5" width="4.9" height="4.9" fill="#fff"/>
<rect x="548.0" y="176.0" width="4.9" height="4.9" fill="#fff"/>
<rect x="563.5" y="178.4" width="4.9" height="4.9" fill="#fff"/>
<rect x="578.9" y="180.2" width="4.9" height="4.9" fill="#fff"/>
<rect x="594.3" y="182.0" width="4.9" height="4.9" fill="#fff"/>
<rect x="625.2" y="182.6" width="4.9" height="4.9" fill="#fff"/>
<rect x="394.3" y="19.4" width="3.9" height="3.9" fill="#ff8028"/>
<rect x="409.7" y="53.1" width="3.9" height="3.9" fill="#ff8028"/>
<rect x="425.1" y="81.2" width="3.9" height="3.9" fill="#ff8028"/>
<rect x="440.6" y="106.2" width="3.9" height="3.9" fill="#ff8028"/>
<rect x="456.0" y="127.0" width="3.9" height="3.9" fill="#ff8028"/>
<rect x="471.4" y="142.9" width="3.9" height="3.9" fill="#ff8028"/>
<rect x="486.8" y="155.2" width="3.9" height="3.9" fill="#ff8028"/>
<rect x="502.3" y="164.7" width="3.9" height="3.9" fill="#ff8028"/>
<rect x="517.7" y="169.7" width="3.9" height="3.9" fill="#ff8028"/>
<rect x="533.1" y="171.0" width="3.9" height="3.9" fill="#ff8028"/>
<rect x="548.5" y="176.5" width="3.9" height="3.9" fill="#ff8028"/>
<rect x="564.0" y="178.9" width="3.9" height="3.9" fill="#ff8028"/>
<rect x="579.4" y="180.8" width="3.9" height="3.9" fill="#ff8028"/>
<rect x="594.8" y="182.5" width="3.9" height="3.9" fill="#ff8028"/>
<rect x="625.7" y="183.1" width="3.9" height="3.9" fill="#ff8028"/>
<rect x="394.3" y="23.8" width="3.9" height="3.9" fill="#000"/>
<rect x="409.7" y="32.8" width="3.9" height="3.9" fill="#000"/>
<rect x="425.1" y="43.3" width="3.9" height="3.9" fill="#000"/>
<rect x="440.6" y="54.6" width="3.9" height="3.9" fill="#000"/>
<rect x="456.0" y="66.8" width="3.9" height="3.9" fill="#000"/>
<rect x="471.4" y="80.0" width="3.9" height="3.9" fill="#000"/>
<rect x="486.8" y="94.1" width="3.9" height="3.9" fill="#000"/>
<rect x="502.3" y="109.0" width="3.9" height="3.9" fill="#000"/>
<rect x="517.7" y="119.2" width="3.9" height="3.9" fill="#000"/>
<rect x="533.1" y="130.9" width="3.9" height="3.9" fill="#000"/>
<rect x="548.5" y="140.9" width="3.9" height="3.9" fill="#000"/>
<rect x="564.0" y="153.9" width="3.9" height="3.9" fill="#000"/>
<rect x="579.4" y="163.2" width="3.9" height="3.9" fill="#000"/>
<rect x="594.8" y="175.0" width="3.9" height="3.9" fill="#000"/>
<rect x="625.7" y="192.9" width="3.9" height="3.9" fill="#000"/>
<line x1="396.2" y1="25.5" x2="627.6" y2="200.7" stroke="#1e78e6" stroke-width="1.6"/>
<g stroke-width="1.7" fill="none" stroke-linecap="square">
<line x1="376.9" y1="5.0" x2="647.2" y2="5.0" stroke="#151515"/>
<line x1="376.9" y1="205.4" x2="647.2" y2="205.4" stroke="#151515"/>
<line x1="376.9" y1="5.0" x2="376.9" y2="205.4" stroke="#ff8230"/>
<line x1="647.2" y1="5.0" x2="647.2" y2="205.4" stroke="#2222ff"/>
</g>
<g stroke-width="1.5" fill="none">
<line x1="372.9" y1="188.9" x2="376.9" y2="188.9" stroke="#ff8230"/>
<line x1="374.3" y1="172.2" x2="376.9" y2="172.2" stroke="#ff8230"/>
<line x1="372.9" y1="155.4" x2="376.9" y2="155.4" stroke="#ff8230"/>
<line x1="374.3" y1="138.7" x2="376.9" y2="138.7" stroke="#ff8230"/>
<line x1="372.9" y1="121.9" x2="376.9" y2="121.9" stroke="#ff8230"/>
<line x1="374.3" y1="105.2" x2="376.9" y2="105.2" stroke="#ff8230"/>
<line x1="372.9" y1="88.5" x2="376.9" y2="88.5" stroke="#ff8230"/>
<line x1="374.3" y1="71.7" x2="376.9" y2="71.7" stroke="#ff8230"/>
<line x1="372.9" y1="55.0" x2="376.9" y2="55.0" stroke="#ff8230"/>
<line x1="374.3" y1="38.2" x2="376.9" y2="38.2" stroke="#ff8230"/>
<line x1="372.9" y1="21.5" x2="376.9" y2="21.5" stroke="#ff8230"/>
<line x1="374.3" y1="5.0" x2="376.9" y2="5.0" stroke="#ff8230"/>
<line x1="647.2" y1="195.1" x2="651.6" y2="195.1" stroke="#2222ff"/>
<line x1="647.2" y1="152.8" x2="651.6" y2="152.8" stroke="#2222ff"/>
<line x1="647.2" y1="110.4" x2="651.6" y2="110.4" stroke="#2222ff"/>
<line x1="647.2" y1="68.0" x2="651.6" y2="68.0" stroke="#2222ff"/>
<line x1="647.2" y1="25.7" x2="651.6" y2="25.7" stroke="#2222ff"/>
<line x1="377.0" y1="205.4" x2="377.0" y2="208.0" stroke="#000"/>
<line x1="396.2" y1="205.4" x2="396.2" y2="209.6" stroke="#000"/>
<line x1="415.5" y1="205.4" x2="415.5" y2="208.0" stroke="#000"/>
<line x1="434.8" y1="205.4" x2="434.8" y2="209.6" stroke="#000"/>
<line x1="454.1" y1="205.4" x2="454.1" y2="208.0" stroke="#000"/>
<line x1="473.4" y1="205.4" x2="473.4" y2="209.6" stroke="#000"/>
<line x1="492.6" y1="205.4" x2="492.6" y2="208.0" stroke="#000"/>
<line x1="511.9" y1="205.4" x2="511.9" y2="209.6" stroke="#000"/>
<line x1="531.2" y1="205.4" x2="531.2" y2="208.0" stroke="#000"/>
<line x1="550.5" y1="205.4" x2="550.5" y2="209.6" stroke="#000"/>
<line x1="569.8" y1="205.4" x2="569.8" y2="208.0" stroke="#000"/>
<line x1="589.0" y1="205.4" x2="589.0" y2="209.6" stroke="#000"/>
<line x1="608.3" y1="205.4" x2="608.3" y2="208.0" stroke="#000"/>
<line x1="627.6" y1="205.4" x2="627.6" y2="209.6" stroke="#000"/>
<line x1="646.9" y1="205.4" x2="646.9" y2="208.0" stroke="#000"/>
</g>
<g font-family="Liberation Serif, serif" font-weight="bold" font-size="11">
<text transform="translate(370.4,192.8) scale(0.93,1)" font-size="12.3" text-anchor="end" fill="#ff8230">0.0</text>
<text transform="translate(370.4,159.3) scale(0.93,1)" font-size="12.3" text-anchor="end" fill="#ff8230">0.2</text>
<text transform="translate(370.4,125.8) scale(0.93,1)" font-size="12.3" text-anchor="end" fill="#ff8230">0.4</text>
<text transform="translate(370.4,92.4) scale(0.93,1)" font-size="12.3" text-anchor="end" fill="#ff8230">0.6</text>
<text transform="translate(370.4,58.9) scale(0.93,1)" font-size="12.3" text-anchor="end" fill="#ff8230">0.8</text>
<text transform="translate(370.4,25.4) scale(0.93,1)" font-size="12.3" text-anchor="end" fill="#ff8230">1.0</text>
<text transform="translate(653.9,29.3) scale(0.9,1)" font-size="12.3" text-anchor="start" fill="#2222ff">0</text>
<text transform="translate(653.5,71.6) scale(0.9,1)" font-size="12.3" text-anchor="start" fill="#2222ff">-1</text>
<text transform="translate(653.5,114.0) scale(0.9,1)" font-size="12.3" text-anchor="start" fill="#2222ff">-2</text>
<text transform="translate(653.5,156.3) scale(0.9,1)" font-size="12.3" text-anchor="start" fill="#2222ff">-3</text>
<text transform="translate(653.5,198.7) scale(0.9,1)" font-size="12.3" text-anchor="start" fill="#2222ff">-4</text>
<text x="396.2" y="221.0" text-anchor="middle" fill="#000" font-size="11.5">0</text>
<text x="434.8" y="221.0" text-anchor="middle" fill="#000" font-size="11.5">5</text>
<text x="473.4" y="221.0" text-anchor="middle" fill="#000" font-size="11.5">10</text>
<text x="511.9" y="221.0" text-anchor="middle" fill="#000" font-size="11.5">15</text>
<text x="550.5" y="221.0" text-anchor="middle" fill="#000" font-size="11.5">20</text>
<text x="589.0" y="221.0" text-anchor="middle" fill="#000" font-size="11.5">25</text>
<text x="627.6" y="221.0" text-anchor="middle" fill="#000" font-size="11.5">30</text>
</g>
<g font-family="Liberation Serif, serif" font-weight="bold" fill="#000" font-size="11">
<text x="503.7" y="239.2" text-anchor="middle" letter-spacing="0.12">Time (min)</text>
<text transform="translate(338.8,104.3) rotate(-90)" text-anchor="middle" font-size="11">C<tspan font-size="10.5" dy="3.8">t</tspan><tspan font-size="11" dy="-3.8">/C</tspan><tspan font-size="10.5" dy="3.8">0</tspan></text>
<text transform="translate(680,104) rotate(-90)" text-anchor="middle" font-size="11">ln(C<tspan font-size="10.5" dy="3.8">t</tspan><tspan font-size="11" dy="-3.8">/C</tspan><tspan font-size="10.5" dy="3.8">0</tspan><tspan font-size="11" dy="-3.8">)</tspan></text>
<text transform="translate(521.6,99.0) scale(0.925,1)" fill="#2222ff" font-size="11.8">K=0.136min<tspan font-size="10.5" dy="-5.6" dx="1">-1</tspan></text>
</g>
</svg>
</body></html>
